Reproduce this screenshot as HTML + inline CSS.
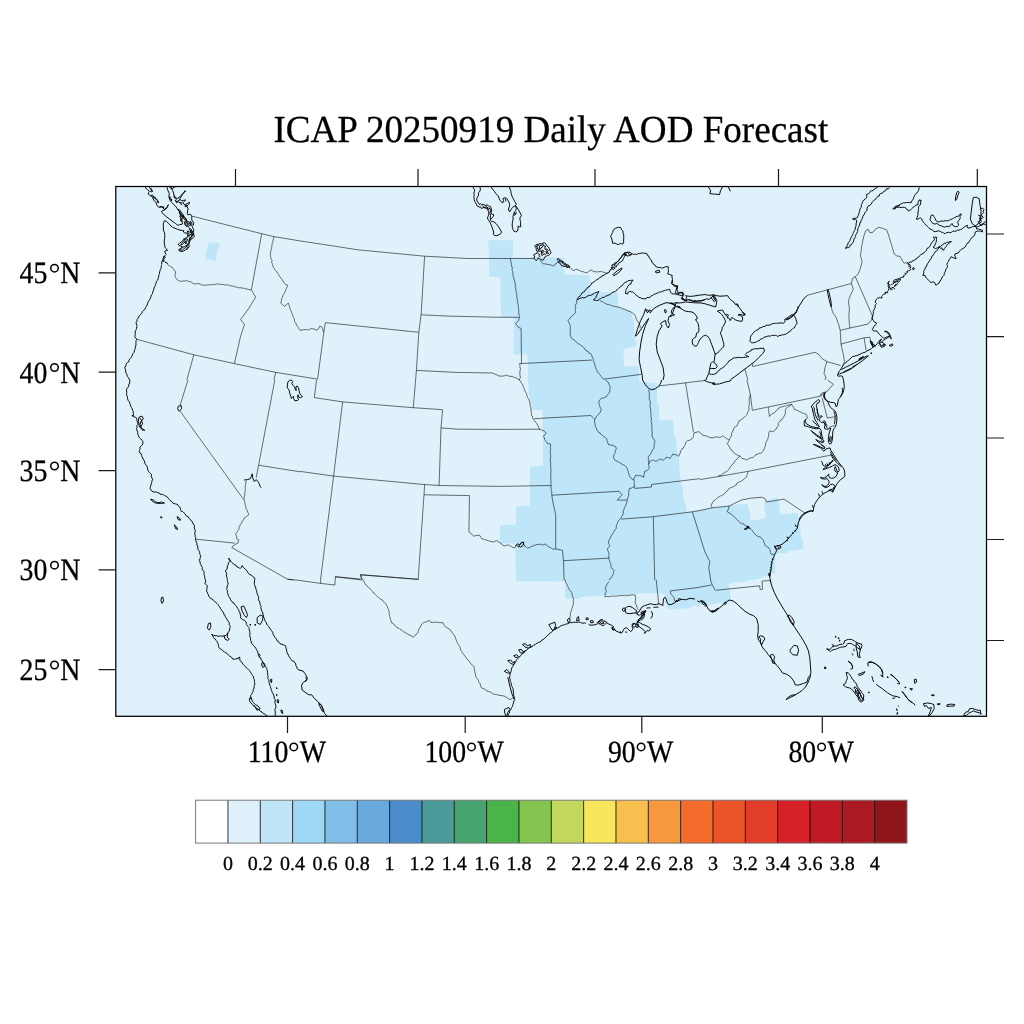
<!DOCTYPE html>
<html><head><meta charset="utf-8"><title>ICAP AOD Forecast</title>
<style>
html,body{margin:0;padding:0;background:#fff;}
body{width:1024px;height:1024px;overflow:hidden;}
svg{display:block;}
text{font-family:"Liberation Serif",serif;fill:#000;text-rendering:geometricPrecision;stroke:#000;stroke-width:0.3px;}
svg{will-change:transform;}
</style></head><body>
<svg width="1024" height="1024" viewBox="0 0 1024 1024">
<rect width="1024" height="1024" fill="#fff"/>
<defs><clipPath id="fc"><rect x="115.8" y="186.5" width="870.7" height="529.8"/></clipPath></defs>
<rect x="115.8" y="186.5" width="870.7" height="529.8" fill="#DFF1FB"/>
<g clip-path="url(#fc)">
<path d="M488.1 240.2L512.8 240.2L512.8 257.8L564.4 257.8L564.4 274.5L589.4 275.6L590.6 292.5L617.8 292.5L618.3 307.0L631.6 310.9L632.0 316.7L633.9 321.4L634.7 339.4L636.6 341.7L636.3 346.4L627.7 348.0L623.4 349.5L624.1 366.7L638.4 365.9L639.4 381.6L656.9 383.4L656.9 403.4L659.2 405.0L659.2 420.6L673.3 419.8L674.1 436.3L676.4 437.8L677.2 455.0L678.8 456.6L679.5 470.6L681.1 484.1L682.7 487.2L683.4 501.3L685.8 503.6L686.3 511.9L729.8 505.6L736.8 504.4L747.6 504.1L748.2 509.8L750.1 511.1L750.5 520.6L755.9 520.0L765.4 518.1L766.0 514.3L764.1 510.5L764.7 502.9L767.3 500.3L777.4 497.1L778.1 500.3L779.3 502.9L780.0 513.3L781.9 514.5L795.2 512.8L797.8 513.6L798.4 518.1L800.3 527.6L800.9 537.1L802.6 539.7L803.1 547.3L804.7 548.6L800.3 549.6L788.9 551.1L787.0 553.6L777.4 553.4L775.5 554.9L774.9 571.4L776.4 573.3L770.5 574.2L769.2 575.8L762.2 576.7L758.4 579.0L748.2 580.3L747.0 581.6L733.0 582.2L728.6 584.1L729.8 591.7L730.7 597.4L730.5 601.9L716.5 603.8L710.0 604.4L692.0 605.9L691.3 607.8L669.4 609.4L667.0 607.5L665.5 601.3L664.7 593.4L643.6 593.1L635.0 594.2L610.0 595.0L580.8 596.9L580.0 598.8L565.2 598.4L565.2 581.6L516.3 581.3L515.6 561.7L515.2 543.4L500.0 543.0L500.0 525.0L515.9 524.7L516.3 506.3L530.0 505.8L530.0 466.7L543.3 465.2L542.5 410.0L531.6 409.7L531.3 403.4L528.8 394.1L528.1 380.0L528.1 362.8L526.9 354.2L513.6 354.2L513.6 317.5L501.1 316.7L500.3 276.9L489.4 276.6L489.1 257.8ZM209.0 241.5L211.3 243.5L219.5 242.9L219.1 247.4L216.8 251.3L216.2 261.1L213.3 261.6L212.3 259.7L206.4 259.7L205.5 252.3L207.0 249.3L208.4 244.5Z" fill="#BEE5F8" stroke="none"/>
<path d="M167.4 264.4L168.9 265.4L170.2 266.1L170.8 266.7L172.0 267.1L172.9 268.1L173.7 269.6L174.9 270.6L175.5 272.2L175.5 273.3L175.0 274.8L175.0 276.5L176.3 278.6L177.4 280.0L178.6 280.6L179.4 280.9L181.4 281.4L182.9 281.0L184.1 281.0L185.8 280.8L187.6 280.8L188.5 281.6L190.0 281.3L190.8 281.9L192.6 283.0L193.2 283.6L195.1 284.0L196.2 283.9L197.7 283.5L200.0 284.0L201.3 284.8L202.8 285.2L204.7 285.2L205.7 285.1L207.0 285.1L208.4 284.8L209.7 285.0L211.2 284.5L212.7 284.7L213.9 284.7L215.2 284.3L216.6 283.9L217.8 283.9L218.8 284.3L220.4 284.2L222.2 284.5L223.4 284.6L225.0 285.0L226.2 285.0L227.7 284.9L229.6 285.4L230.9 285.9L232.6 286.0L233.9 286.4L235.3 286.9L236.7 287.1L238.0 287.6L239.5 287.8L241.0 287.6L242.1 288.4L243.6 288.0L244.4 288.5L245.7 288.6L247.0 289.1L248.9 289.6L249.8 289.7L251.4 289.8M191.8 216.1L261.7 233.7L273.8 236.6L300.0 240.9M261.7 233.7L251.4 289.8L255.7 297.2L248.4 308.9L240.6 319.6L244.5 324.5L240.6 336.2L234.4 363.6M136.3 339.2L193.8 354.8L234.4 363.6L275.8 372.4L300.0 376.3M193.8 354.8L186.9 380.0M275.8 372.4L273.8 380.0M273.8 236.6L273.8 238.3L273.1 239.7L272.9 240.7L273.1 242.3L272.2 243.3L272.2 244.6L271.7 246.0L271.8 247.1L271.4 248.8L270.8 250.0L270.9 251.5L270.3 253.2L270.5 254.6L270.3 255.3L270.5 257.0L271.0 257.8L271.4 259.7L272.0 260.5L271.7 262.3L272.3 263.5L272.3 264.3L273.0 265.9L273.3 267.4L274.4 268.4L274.7 269.5L275.5 270.6L276.5 271.3L277.3 272.9L277.8 273.3L278.7 274.5L279.1 275.6L279.8 276.7L280.8 277.9L281.8 279.0L282.4 280.0L283.0 281.0L283.6 282.0L284.7 283.6L285.8 284.5L287.8 285.2L287.2 286.7L286.4 288.3L285.8 289.4L285.5 291.0L284.7 292.2L284.4 293.4L283.6 294.5L282.8 295.6L282.3 297.4L281.9 298.4L281.3 300.4L281.4 301.7L280.5 302.9L281.8 304.0L283.0 305.0L284.4 306.3L286.2 305.0L287.0 304.4L288.3 302.9L288.5 304.3L289.3 305.7L289.6 307.0L289.8 308.1L290.3 309.5L290.7 310.5L291.4 312.0L292.0 313.5L292.6 314.9L293.0 316.4L293.3 317.2L294.2 318.4L294.5 320.1L294.5 321.5L295.6 322.7L296.2 323.9L296.4 324.8L297.3 326.2L298.2 327.3L298.7 328.5L299.5 329.4L300.0 330.4M300.0 240.9L358.6 249.9L424.6 256.2L468.0 258.5L500.0 258.5M424.6 256.2L421.1 314.8L418.8 332.3L416.4 370.4L415.6 380.0M325.4 322.6L418.8 332.3M300.0 330.4L301.0 330.0L302.3 330.0L304.0 329.5L305.3 329.7L306.5 329.4L308.0 330.2L309.1 329.6L310.5 328.9L311.9 328.6L312.9 328.9L314.8 329.2L316.3 330.1L317.6 329.9L318.2 329.0L319.1 327.7L319.6 326.2L321.6 326.7L322.5 328.1L322.9 329.2L323.0 330.8L323.8 332.3M325.4 322.6L323.8 332.3L317.6 379.2M300.0 376.3L317.6 379.2M421.1 314.8L448.4 316.1L500.0 317.3M416.4 370.4L456.2 372.4L492.4 373.0L500.0 376.3M500.0 258.5L534.2 258.5M510.2 258.5L510.6 260.3L510.9 261.3L511.1 262.9L511.6 264.5L511.5 266.0L512.2 267.0L512.3 268.2L512.0 269.6L512.6 271.5L512.7 272.3L513.0 273.6L512.9 275.5L513.5 276.7L513.9 278.3L514.1 279.6L514.7 281.0L514.8 282.3L515.3 283.4L515.2 285.0L515.3 286.6L515.6 287.3L515.7 289.4L516.1 290.2L516.0 291.5L516.7 293.4L516.9 294.8L516.6 296.0L517.0 297.4L517.5 298.8L517.1 300.1L517.9 301.4L517.4 302.2L517.6 303.3L518.3 305.2L518.3 306.5L518.5 307.4L518.3 308.6L518.9 310.0L518.7 311.5L518.7 312.6L519.0 314.3L519.3 315.3L519.5 316.7M500.0 317.3L519.5 317.3M519.5 317.3L518.6 320.6L515.6 323.6L518.6 327.5L521.1 328.4L521.5 363.6M519.5 363.6L591.8 360.1M519.5 363.6L520.1 365.3L519.8 366.8L520.5 368.7L520.1 370.3L519.9 371.5L519.8 373.0L520.1 374.4L519.8 375.7L520.7 377.6L519.6 378.6L519.5 380.0M500.0 376.3L501.2 376.0L502.8 376.1L504.2 375.9L505.7 375.1L507.5 375.6L508.5 375.9L509.9 376.3L511.9 376.5L513.1 376.8L514.2 377.4L515.9 377.8L517.2 378.4L518.0 379.2L519.5 380.0M540.0 260.1L540.9 261.5L541.8 262.4L543.0 263.8L544.6 263.9L545.8 263.9L547.1 264.4L549.0 264.6L550.2 264.8L552.3 265.5L553.4 265.9L555.0 264.8L555.4 263.8L556.8 263.3L557.6 262.0M570.3 267.5L571.1 268.5L572.3 269.5L573.1 270.6L575.1 270.0L575.9 269.2L577.0 269.4L578.9 270.3L579.9 270.6L580.6 271.3L581.7 271.6L583.6 271.8L585.2 272.7L587.1 272.8L588.3 271.8L589.2 270.9L590.7 270.0L592.6 270.8L593.8 272.0L595.0 271.5L596.5 272.0L597.9 271.8L599.2 271.7L600.4 271.4L601.4 271.5L602.5 271.8L604.2 272.5L605.3 272.7L606.4 273.3L608.0 272.5L609.4 271.8M577.1 299.5L576.6 301.0L576.7 302.2L576.1 304.0L575.4 305.0L575.4 306.5L575.9 307.6L575.2 309.0L575.4 310.4L575.3 311.6L575.4 312.8L574.2 314.1L573.0 314.9L572.2 315.9L571.0 317.1L570.2 317.7L569.2 319.2L568.0 320.6L568.8 322.0L569.2 322.9L569.6 324.5L570.6 325.5L570.1 327.2L570.2 328.2L570.0 330.1L570.5 331.5L570.3 332.9L570.1 334.6L570.5 335.7L571.2 337.1L571.3 338.0L572.5 338.9L574.0 340.0L575.2 341.0L576.1 341.9L577.3 342.7L578.1 343.8L579.5 344.3L580.7 345.2L582.0 346.1L583.1 346.9L584.3 348.2L584.6 349.2L586.2 350.1L586.6 351.2L588.2 351.5L589.0 353.2L590.7 353.6L591.5 354.5L592.0 356.3L592.5 357.2L593.3 359.0L593.1 360.4L593.9 361.8L594.4 363.3L595.0 364.8L595.0 366.2L595.7 367.7L596.1 369.0L596.7 369.8L597.0 370.9L597.7 372.0L598.6 373.1L599.6 374.3L600.6 375.6L601.2 376.5L602.5 377.8L603.5 379.2M603.5 379.2L641.6 374.3M599.6 300.7L600.7 301.2L602.4 301.5L603.4 302.4L604.1 302.9L605.9 303.7L606.8 304.3L608.2 304.5L609.7 304.6L610.8 305.4L611.9 305.9L613.2 306.0L614.6 306.5L615.7 306.6L617.1 307.0L618.7 307.1L620.0 307.5L621.1 307.8L622.3 308.8L623.7 309.1L624.6 309.3L625.8 309.9L627.3 310.6L628.1 311.0L629.9 311.4L630.5 311.7L631.8 312.6L633.8 313.9L634.9 315.0L635.6 316.3L635.8 317.8L636.4 319.2L636.9 320.4L637.8 321.9L638.9 322.9L639.4 324.2L640.1 326.1L640.2 327.0L640.2 328.4M807.4 295.2L851.4 283.5L852.3 278.6L855.3 276.7L858.2 273.8L860.2 268.9L862.1 262.0L860.5 255.2L861.7 246.4L863.7 236.6L865.6 230.8L868.0 229.2L869.9 232.7L872.9 232.3L875.8 228.8L878.7 227.3L882.6 228.4L886.5 229.8L888.5 234.7L891.4 244.5L894.3 254.2L897.3 256.2L900.0 256.2M831.2 307.0L832.8 312.8L835.7 316.7L838.7 324.5L840.2 330.4L841.0 344.1L843.6 355.8L844.5 361.6L842.6 366.5M851.4 283.5L853.3 289.4L850.4 295.2L848.4 301.1L849.4 308.9L848.8 316.7L849.4 324.5L850.0 328.0M840.2 330.4L850.0 328.0L868.0 324.1L871.9 319.6L872.9 316.7M855.3 276.7L871.9 314.8L872.9 316.7M841.0 344.1L864.1 337.8L869.9 337.2L870.9 342.1M864.1 337.8L866.0 349.9M752.7 366.5L815.2 352.3L819.1 354.8L822.1 358.7L827.0 361.6L840.6 365.5M827.0 361.6L825.0 367.5L824.0 373.4L826.0 377.3L825.0 380.0M744.9 369.1L747.9 380.0M752.7 366.5L752.3 363.6M900.0 256.2L902.0 260.1L903.9 263.0L907.9 263.0L908.8 263.0M187.9 380.0L180.1 405.4M180.1 411.2L243.6 499.5M274.8 380.0L258.6 465.2L256.2 477.7M258.6 465.2L300.0 471.8M246.1 480.6L246.0 481.7L245.7 483.2L245.6 484.3L245.3 486.1L245.1 487.1L245.4 488.5L245.0 489.9L245.2 491.1L244.9 493.0L244.5 494.1L244.8 495.6L244.3 496.5L244.2 498.1L244.3 499.4L244.3 501.1L244.9 502.4L244.9 504.0L245.6 505.2L245.9 507.1L246.0 508.4L246.5 509.2L247.4 510.8L247.7 512.2L248.6 513.7L248.5 514.8L247.7 515.5L246.9 516.2L245.6 517.3L244.5 517.7L243.8 519.1L243.3 520.2L242.3 520.9L241.9 522.4L241.2 523.8L240.1 524.8L239.5 526.7L239.0 527.6L238.9 529.5L237.6 530.8L237.4 531.8L236.1 533.2L235.7 534.4L236.4 535.8L236.7 536.6L236.6 538.2L237.5 539.6L238.9 540.0L238.2 541.4L238.0 543.1L236.5 543.8L234.9 544.4L234.3 545.5L233.1 545.8L231.8 547.6M195.7 539.2L234.8 543.1M231.8 547.6L287.5 579.2L293.4 580.0M316.6 380.0L314.3 397.6L342.6 401.9L413.3 407.7L442.6 409.7M415.6 380.0L413.3 407.7M342.6 401.9L333.6 476.1L320.5 580.0M300.0 471.4L333.6 476.1L424.0 484.5L439.1 485.5L500.0 486.4M442.6 409.7L441.0 427.9L439.1 485.5M441.0 427.9L458.2 429.2L500.0 429.4M424.6 484.5L424.0 494.8L418.2 579.2M424.0 494.8L469.5 495.6L468.9 532.0L471.9 534.3L473.8 536.2L476.8 535.3L479.7 535.3L481.6 538.6L485.5 539.8L489.5 541.1L493.4 542.1L496.3 540.5L499.2 542.1L500.0 543.1M418.2 579.2L360.5 574.9L362.1 579.2M335.2 576.9L362.5 580.0M519.5 380.0L520.3 381.1L521.0 382.4L521.8 383.6L522.7 384.7L523.3 386.2L523.2 387.3L524.2 388.6L524.7 389.8L525.1 391.4L525.7 392.6L526.6 393.7L526.8 395.3L527.3 396.6L527.5 397.5L528.4 398.5L529.1 399.9L529.4 401.2L529.9 402.8L530.0 404.1L530.2 405.5L530.2 406.5L530.9 407.7L531.2 409.1L530.8 410.5L531.5 412.6L531.4 413.8L531.5 415.5L532.4 416.1L532.6 417.7L533.2 419.1L534.0 419.8L535.0 421.1L535.7 422.2L536.7 423.6L537.4 424.7L538.1 426.4L538.5 426.7L539.2 428.3L539.8 429.3L541.0 429.8L542.8 430.5L544.1 430.9L545.2 431.9L546.2 433.5L545.4 434.3L544.0 435.4L543.5 436.6L544.3 437.6L544.6 439.5L545.4 440.6L546.3 441.7L547.7 443.8L549.4 443.8L550.7 444.1L550.5 446.1L550.3 447.4L550.6 448.1L550.4 449.7L550.3 451.3L550.3 452.6L550.4 453.4L550.6 454.7L550.7 456.6L550.7 457.7L550.3 459.0L550.4 460.4L550.4 461.7L550.6 462.9L550.9 464.0L550.5 466.0L550.7 467.2L551.1 468.3L550.6 469.3L551.2 470.6L550.9 472.3L550.7 473.5L550.7 474.9L551.0 476.1L550.8 477.5L550.8 478.6L550.9 480.5L551.1 481.8L550.8 483.2L551.1 484.4L551.2 485.6L551.0 487.1L551.1 488.1L551.1 489.6L551.5 490.9L551.9 492.1L551.7 493.6L551.8 495.2M534.2 418.7L590.8 415.5L594.7 419.1M500.0 429.4L540.0 429.2M500.0 486.4L551.2 485.5M551.8 495.2L619.1 491.3L622.1 494.8L617.2 500.1L627.0 500.1M551.8 495.2L552.7 501.1L555.7 514.8L555.7 548.9L562.5 550.3L563.5 560.7L564.1 580.0M563.5 560.7L609.0 558.1M500.0 543.1L501.5 543.7L502.4 545.1L504.3 545.7L505.3 545.8L506.7 545.2L508.0 545.0L509.4 545.3L510.8 546.3L511.6 546.7L513.0 547.7L514.8 547.7L515.5 546.2L516.4 544.8L517.4 546.4L518.9 547.2L519.2 545.7L520.1 544.7L520.7 543.2L521.7 542.7L523.7 542.3L523.5 543.6L524.0 544.5L524.8 546.1L526.1 546.7L527.6 548.3L529.0 547.6L530.2 547.2L531.3 546.4L532.8 546.2L534.1 545.3L535.5 545.1L536.8 544.4L538.1 544.6L538.9 544.3L540.2 544.2L541.6 544.5L543.0 545.3L545.1 543.8L546.1 545.0L547.7 546.0L549.2 547.2L550.1 547.3L551.5 548.5L552.6 549.0L554.5 549.2L555.7 548.9M605.5 380.0L606.1 380.7L607.7 381.9L608.5 382.9L608.9 384.0L609.6 385.8L610.4 386.7L609.8 388.1L610.0 389.7L609.7 391.5L609.1 392.8L608.0 394.2L607.2 395.1L606.8 396.5L604.8 397.4L603.6 397.9L602.0 398.1L600.9 398.6L600.0 399.8L598.9 401.2L599.0 402.4L599.0 404.4L599.6 405.6L599.9 406.6L600.3 408.0L601.4 409.3L600.6 410.9L600.4 412.0L599.3 413.3L598.6 414.5L597.6 415.3L596.8 416.0L595.7 417.7L595.0 419.1L594.6 420.9L594.4 422.2L595.1 423.7L595.1 425.4L595.6 427.0L596.3 428.0L596.7 429.5L598.0 431.5L598.4 432.1L599.7 432.6L600.5 434.1L601.7 434.6L602.7 435.5L603.9 436.6L605.5 437.7L606.7 438.7L606.8 440.4L607.6 441.7L607.7 442.7L608.5 444.7L609.9 444.7L610.7 445.1L612.6 445.2L613.8 445.8L614.8 446.4L616.1 447.3L616.2 449.4L615.3 450.5L615.6 452.0L614.6 453.4L614.0 454.5L613.7 455.8L613.6 457.0L614.0 458.9L615.2 460.3L616.6 461.0L617.5 461.3L619.1 462.3L620.2 463.1L621.5 463.6L622.5 464.8L623.8 465.0L625.1 465.8L626.2 466.9L627.2 468.6L627.8 470.2L628.1 471.1L628.3 472.8L629.1 474.4L629.2 475.9L630.3 477.0L631.9 479.0L633.9 479.8L634.1 480.9L634.4 482.5L634.0 483.6L634.5 485.0L634.1 486.7L632.9 487.1L631.5 488.1L629.6 488.3L629.1 489.6L629.0 491.3L628.6 492.4L628.6 493.8L628.7 495.5L628.6 496.7L627.7 497.8L627.6 498.9L627.3 500.4L626.8 502.0L626.4 503.7L625.7 505.2L625.5 506.4L624.5 507.3L624.1 509.2L623.5 510.3L623.2 511.9L623.2 514.1L622.6 515.0L621.9 516.1L621.4 517.6L619.2 519.7L618.5 520.8L617.6 522.2L617.2 523.8L616.5 525.4L616.2 526.6L616.3 528.3L615.1 529.8L614.0 531.3L613.1 532.6L612.9 533.7L611.6 535.2L611.0 536.3L610.5 537.1L610.0 538.9L609.2 539.8L608.4 541.2L608.5 543.0L609.4 544.6L609.7 545.9L608.8 547.2L607.4 548.7L607.9 550.7L608.6 552.2L608.9 553.6L608.9 555.1L608.8 556.9L609.0 558.1L609.1 559.6L609.4 560.7L610.1 562.4L610.7 563.8L611.0 565.2L611.2 566.4L611.0 567.3L611.9 568.8L613.4 569.6L614.1 570.3L613.5 572.2L613.7 573.5L612.5 575.1L611.9 576.8L611.4 577.6L610.0 578.5L609.4 580.0M648.8 389.8L648.9 391.5L649.4 392.7L649.2 394.0L649.0 394.8L649.5 396.4L649.3 397.6L649.3 399.4L649.9 400.8L650.2 401.7L650.2 403.0L650.3 404.7L649.9 405.4L650.1 407.1L650.4 408.0L650.8 410.0L650.6 410.7L651.1 412.4L650.6 413.6L651.1 415.4L651.1 416.5L651.0 417.5L651.7 419.0L651.1 420.5L651.2 421.5L651.6 423.2L651.8 424.6L651.7 425.5L652.0 426.8L651.9 428.5L652.1 430.0L651.8 431.3L652.3 432.6L651.9 434.2L652.3 435.0L652.1 437.0L652.9 437.9L654.1 439.5L654.8 440.7L654.3 441.6L654.9 443.5L654.1 444.3L654.2 446.3L654.1 447.5L653.9 448.7L653.2 449.6L651.8 450.7L651.6 452.0L651.0 453.6L649.7 454.9L648.9 455.9L648.1 457.4L648.7 458.8L648.1 460.0L648.5 461.3L648.9 462.6L649.4 464.0M633.8 479.6L634.1 478.0L635.1 476.8L635.7 475.3L637.2 475.3L638.6 475.9L639.6 475.4L641.1 476.0L642.2 476.4L643.9 477.3L643.7 475.6L644.2 474.8L644.6 472.9L644.4 471.6L646.0 470.8L647.1 470.7L648.4 469.2L649.1 468.6L649.2 467.3L648.8 465.6L648.4 464.1L649.0 462.8L649.6 461.3L651.0 461.0L652.2 460.0L653.5 460.3L654.7 460.9L656.0 461.4L657.5 460.6L658.7 459.6L660.0 459.0L661.3 459.5L663.5 460.2L664.4 459.3L665.3 458.5L666.2 457.0L667.1 457.4L668.3 457.6L670.2 458.4L670.5 457.3L671.6 456.3L672.3 454.9L672.6 454.1L674.0 454.4L675.4 454.8L677.1 454.9L678.7 456.3L679.2 455.3L679.6 454.0L680.3 452.9L680.4 451.1L681.5 450.3L682.2 448.5L683.8 447.8L683.9 446.2L684.9 445.2L685.5 444.1L685.7 442.5L686.2 441.7L687.6 440.7L689.5 440.3L690.5 439.7L692.0 438.7L693.2 437.3L693.4 435.6L693.9 434.1L694.0 432.7L696.2 432.4L697.1 432.0L698.4 431.7L700.0 432.3M659.2 385.9L685.5 382.9L700.0 381.0M685.5 382.9L693.4 431.8M634.4 486.4L634.8 488.4L651.4 487.0L651.4 484.5L700.0 478.6M621.1 519.1L653.3 516.7L692.4 511.8L700.0 510.5M653.3 516.7L654.7 580.0M692.4 511.8L700.0 536.2M746.9 380.0L750.4 394.6L752.3 410.3L821.1 396.0L822.7 393.7L825.0 392.7M822.1 397.6L827.3 418.1L835.2 416.7M750.4 394.6L750.0 396.2L749.5 397.6L749.2 399.4L749.2 400.6L749.3 402.3L749.4 404.2L749.3 405.2L748.7 406.6L749.1 408.1L748.8 409.9L748.6 411.0L747.5 412.2L747.5 413.6L746.6 415.0L745.7 415.8L744.2 417.4L743.0 418.4L741.9 419.2L740.3 420.3L738.9 420.9L738.6 421.9L737.9 423.7L737.4 424.6L737.3 425.7L735.4 426.7L734.1 427.7L733.6 429.1L733.2 430.1L732.4 432.0L731.7 433.0L731.5 434.7L731.2 436.8L730.3 437.5L729.9 438.7L729.1 440.1L727.5 439.0L726.3 438.6L725.4 437.7L723.4 436.4L722.6 435.7L721.3 437.0L719.8 437.3L718.6 437.4L716.7 437.0L715.9 436.8L714.0 437.2L713.3 437.8L711.9 437.9L710.4 437.5L708.9 437.3L707.7 436.4L706.9 436.3L705.0 435.6L704.0 435.7L702.2 434.7L701.5 433.7L700.0 432.7M729.3 440.2L728.4 441.9L727.1 443.7L728.3 445.0L728.9 446.0L729.6 447.1L730.1 448.8L731.6 449.7L732.0 450.9L733.5 452.0L734.6 453.4L736.2 454.6L737.4 454.9L738.4 455.6L739.8 455.8L741.0 457.3L742.0 458.5L743.4 458.6L744.9 459.2L746.3 460.0L747.0 459.8L748.4 458.7L749.7 458.3L750.7 457.7L752.2 457.7L753.3 457.2L754.5 456.1L755.7 455.4L756.4 454.0L757.7 454.2L759.0 453.3L760.6 453.3L762.3 451.9L763.3 451.0L763.9 450.0L764.1 449.0L764.6 447.7L765.3 446.0L765.8 444.9L765.6 444.0L766.1 442.1L766.7 440.9L767.7 439.9L767.8 438.1L768.6 436.9L768.7 435.2L768.6 433.5L769.2 432.3L769.6 431.1L771.0 430.9L771.6 431.7L773.3 431.5L774.4 430.6L775.0 429.7L776.2 429.0L776.8 428.0L777.7 426.4L778.3 425.1L778.2 423.4L779.2 422.2L780.2 420.8L781.4 420.3L781.8 419.0L783.4 417.9L783.6 417.1L784.6 415.3L785.1 414.1L785.4 412.8L785.3 410.7L785.7 409.1L786.6 408.0L787.8 407.3L788.5 406.4L790.7 405.4L791.8 404.4M768.4 407.3L768.3 408.1L768.5 409.3L768.8 410.7L768.7 412.6L769.2 413.8L769.3 414.9L769.5 416.5L770.4 415.4L771.8 414.0L773.5 413.3L774.8 412.5L775.9 411.0L776.8 410.3L778.3 409.1L778.8 407.9L779.8 407.5L781.0 406.8L782.5 406.9L784.4 406.0L785.3 406.2L787.6 405.2L788.7 405.0L790.2 404.6L791.8 404.2L792.2 405.3L793.0 406.5L794.1 408.2L794.5 409.5L796.2 409.8L797.3 410.4L799.0 411.3L799.6 411.6L801.4 412.5L802.7 413.0L804.1 413.8L804.8 413.9L806.2 414.3L807.0 415.7L806.9 416.5L807.5 418.1L806.2 418.8L805.5 420.0M740.0 455.8L739.2 456.6L737.9 457.8L737.1 459.1L735.8 460.2L734.9 460.9L734.3 462.4L733.3 463.8L732.0 464.6L731.4 465.8L730.0 467.0L729.5 468.6L728.5 469.9L727.6 470.7L725.9 472.0L724.4 472.9L723.1 473.4L722.3 474.1L721.4 475.2L719.9 475.3L718.5 476.1L717.6 476.7M700.0 479.6L717.6 476.7L747.9 471.4L830.5 455.2M747.9 471.4L747.8 472.7L747.6 473.7L746.8 475.3L746.9 476.5L745.8 477.4L744.3 478.6L743.4 479.8L741.9 480.5L741.0 481.6L739.5 481.6L738.1 482.6L736.9 483.2L736.5 484.8L734.9 485.4L734.3 486.3L732.6 487.1L731.9 487.4L730.2 487.8L729.0 488.8L728.0 489.5L727.5 490.6L726.1 491.7L725.1 493.3L724.4 493.8L722.7 494.9L721.7 495.4L720.2 496.0L719.6 496.6L717.7 497.7L716.9 498.5L715.6 499.5L714.7 500.0L713.6 501.3L712.9 501.8L711.8 503.9L711.0 505.2L711.6 506.3L712.1 507.9M700.0 510.5L712.1 507.9L729.3 506.0L741.0 500.1L750.8 498.2L762.1 497.2L765.4 499.1L766.4 502.1L784.0 499.1L804.5 512.8L808.4 511.8M729.3 506.0L727.3 511.8L732.2 514.8L737.1 519.6L742.0 524.5M700.0 536.2L704.9 551.9L709.8 561.6L708.8 567.5L710.7 580.0M287.5 579.1L300.0 580.5M320.7 579.9L320.5 583.4M300.0 580.5L320.5 583.4L334.8 585.0L335.5 576.6L360.5 579.1M360.5 574.6L418.6 579.5M360.5 574.6L360.9 576.0L360.9 577.8L361.8 578.6L362.9 579.6L363.8 580.6L363.9 581.8L364.8 583.0L365.3 584.4L366.5 585.2L367.2 586.4L368.4 587.3L369.5 588.1L370.3 589.1L371.5 590.4L372.5 591.3L373.1 592.6L374.2 593.1L375.0 594.1L376.3 595.4L377.1 596.3L377.9 597.1L379.3 597.9L380.6 599.3L382.2 599.8L382.8 601.2L384.1 602.1L385.1 603.1L385.8 603.6L386.4 605.0L387.5 606.7L387.8 608.4L388.5 609.2L388.7 610.5L389.3 612.3L389.2 613.4L389.3 614.9L389.8 616.6L390.1 617.9L390.3 618.8L390.7 620.4L391.1 621.0L391.6 622.8L393.0 623.3L394.0 624.8L394.7 625.2L395.9 626.3L396.6 627.5L398.0 627.9L399.3 628.6L400.0 629.4L401.5 629.9L402.6 631.2L403.8 631.9L405.2 632.2L405.9 633.3L407.5 633.7L408.4 634.8L410.1 635.0L411.0 635.9L412.0 636.1L413.1 637.3L414.7 636.0L415.6 634.7L417.0 633.8L417.7 632.8L418.1 631.5L418.7 630.0L419.3 628.4L420.1 626.8L421.0 626.2L421.3 624.9L422.1 623.8L423.2 622.7L424.8 622.2L427.0 621.6L428.6 620.5L429.9 621.0L430.7 622.3L432.3 622.6L433.5 622.3L435.0 622.0L436.4 622.2L438.1 622.5L439.7 622.5L441.3 622.8L442.9 622.6L443.6 624.1L444.4 625.5L445.3 626.7L446.6 627.3L448.0 628.4L449.0 629.0L450.7 630.2L451.1 631.7L452.4 632.6L453.2 634.2L454.2 635.1L455.1 636.3L455.2 637.4L455.9 639.0L456.2 640.0L456.6 641.5L457.4 642.7L457.9 643.8L458.2 644.6L459.5 646.1L459.9 647.3L460.3 648.4L460.7 650.1L461.7 651.2L462.2 652.5L463.2 653.7L464.1 655.1L465.1 656.2L466.0 657.7L466.7 658.7L468.1 660.1L469.0 661.5L470.0 662.3L470.9 663.8L471.9 664.7L472.7 665.4L474.2 666.7L474.1 667.5L474.3 668.8L474.7 670.9L474.8 671.7L475.1 673.0L475.5 674.5L475.4 676.0L476.2 677.2L476.9 678.2L477.8 679.2L478.5 680.5L478.6 681.7L479.4 682.7L480.3 684.0L480.4 685.3L481.0 687.0L481.9 688.2L483.2 688.5L484.2 688.9L485.5 689.9L486.5 690.1L487.2 691.2L488.7 691.5L490.1 691.8L491.2 692.6L492.4 693.2L493.1 694.1L494.5 694.4L496.3 694.4L497.5 694.9L498.5 695.1L500.0 695.7M500.0 695.2L504.9 696.3L507.8 698.3L509.8 699.6L512.7 698.3L514.6 697.7M564.5 579.5L565.3 580.5L565.6 582.1L566.0 582.8L566.8 584.2L567.7 585.7L567.8 586.7L568.6 587.5L569.2 589.4L569.8 590.3L570.9 591.2L571.8 592.6L572.1 594.3L572.4 595.7L573.0 597.4L573.5 598.8L573.5 600.2L573.2 601.8L573.4 603.2L573.5 604.9L572.6 605.9L572.5 607.0L572.0 608.3L571.6 609.7L571.0 611.7L570.3 612.7L570.5 614.8L570.4 615.8L570.0 617.1L569.9 618.6M609.0 581.5L608.1 582.8L606.9 584.5L606.2 585.9L606.0 586.8L605.2 588.3L606.0 590.0L606.3 591.2L605.8 592.5L604.9 594.5L605.2 595.8L604.9 597.0L606.5 596.4L608.2 596.7L609.4 596.5L610.2 596.6L611.6 596.1L613.3 596.0L614.5 596.3L615.6 596.1L616.9 595.9L618.7 596.0L619.6 595.5L621.6 595.6L622.6 595.5L624.1 595.7L625.4 595.3L626.7 595.3L627.8 595.6L629.7 595.3L631.1 595.0L632.3 594.7L633.6 595.0L635.1 595.0L635.4 596.0L635.6 597.6L635.6 599.0L635.5 600.8L635.0 602.1L635.2 603.0L636.1 604.4L636.6 605.6L637.0 607.4L637.6 608.8L638.3 609.8M656.2 579.5L658.2 599.1L658.6 604.5M700.0 587.3L670.3 590.9L670.9 594.2L673.8 597.1L674.8 601.4M710.4 579.9L712.1 584.4L714.6 589.3L715.6 590.3L759.6 585.8L760.2 589.7L762.5 589.3L762.1 581.1L770.3 580.5M700.0 587.0L711.7 585.0M827.5 380.0L833.4 384.3L830.6 387.4L828.3 390.2L825.5 392.3M820.1 396.0L820.9 394.1L822.8 392.5L825.5 392.1M829.1 427.3L834.9 425.3M742.0 522.9L743.6 523.8L744.4 525.1L746.3 525.8L747.1 527.0L748.5 527.7L749.8 528.2L751.5 529.8L752.4 530.7L752.9 531.6L753.9 533.0L755.0 534.0L755.9 534.9L756.6 535.6L757.8 536.4L759.7 536.9L761.0 537.6L762.3 539.0L763.0 540.0L764.0 541.8L764.2 542.9L764.9 544.0L764.8 545.2L766.4 546.5L767.5 547.1L769.1 548.1L769.6 549.3L770.4 550.5L770.2 552.3L771.4 554.5L772.7 554.2L774.0 554.5M700.0 381.3L704.6 380.4" fill="none" stroke="#000" stroke-width="0.56" stroke-linejoin="round"/>
<path d="M161.7 264.4L161.3 265.3L161.4 266.5L161.1 268.1L160.3 269.5L160.1 270.8L159.6 271.9L159.5 274.1L158.7 274.9L158.7 277.1L158.2 277.9L158.1 278.8L157.5 280.4L156.3 281.5L156.0 283.5L155.3 284.6L155.3 285.7L154.7 286.7L153.8 288.1L153.9 289.6L153.0 291.1L152.7 292.1L152.5 293.8L151.4 294.9L151.1 296.4L150.7 297.1L150.4 298.2L149.3 300.1L148.5 301.1L147.7 302.6L147.7 303.9L147.1 305.0L146.2 306.7L145.4 307.9L144.8 309.5L143.6 310.4L142.3 311.6L142.0 313.1L141.3 313.6L140.2 315.1L139.1 316.1L138.6 316.9L137.8 318.7L137.1 319.4L136.9 321.3L136.2 322.2L136.2 323.9L136.9 325.4L136.9 326.4L136.4 328.5L136.5 329.4L135.2 331.1L135.2 333.0L135.4 334.4L134.7 336.2L135.6 337.8L136.8 339.4L136.1 340.6L136.0 341.3L135.9 343.4L136.0 345.0L135.6 346.2L135.3 348.1L134.8 349.2L134.4 350.9L134.0 352.4L132.9 353.7L132.3 355.2L131.5 356.9L131.4 357.4L130.0 358.8L129.2 359.8L128.7 361.9L127.3 362.6L126.3 363.4L126.0 364.8L125.9 365.9L124.5 368.0L125.3 368.8L125.6 370.3L125.8 372.9L126.8 373.8L126.8 374.7L127.4 376.3L128.4 377.5L128.8 378.4L129.7 380.0M557.6 258.5L559.4 259.1L560.6 260.4L562.0 261.1L564.1 262.5L565.6 264.2L565.3 263.8L567.9 265.2L568.8 265.3L569.8 267.7L568.4 267.3L566.8 267.5L566.9 266.4L565.3 266.5L564.1 266.3L561.4 265.6L560.1 263.2L558.3 262.5L558.1 260.7L557.3 259.5L557.6 258.5M559.6 260.1L559.7 261.7L562.1 261.8L563.2 264.0L564.5 264.0L564.9 265.0L567.3 266.1L567.6 266.0L569.3 266.3M614.3 228.8L615.3 228.4L617.0 227.7L618.7 227.3L620.7 227.5L621.6 229.8L623.0 231.1L623.0 232.8L623.6 234.1L623.7 235.2L623.7 237.2L623.8 239.1L623.4 240.1L623.8 241.9L623.0 243.9L621.4 244.0L620.6 243.2L618.3 244.6L616.8 244.1L614.9 243.1L612.6 243.3L612.3 241.0L612.1 240.1L611.3 237.7L610.6 236.2L611.5 234.8L612.0 233.5L612.7 232.6L613.1 230.7L614.3 228.8M577.1 299.5L577.8 298.3L578.3 297.2L580.1 296.0L580.4 295.5L581.6 294.0L581.8 293.0L582.9 292.3L584.4 291.7L585.3 289.9L585.5 289.6L587.3 288.4L588.0 286.9L588.8 286.9L590.2 285.8L591.3 284.2L591.4 283.2L592.8 282.7L594.2 281.8L595.0 281.1L595.9 280.2L596.6 279.8L597.9 279.2L599.5 277.9L600.1 277.1L601.7 276.9L602.3 275.6L603.9 275.4L605.0 274.4L606.4 273.5L607.2 273.3L608.9 272.4L609.8 271.1L610.1 269.7L611.8 269.1L611.5 267.1L612.0 266.4L612.2 264.7L613.7 264.7L614.5 263.0L615.8 262.7L617.4 261.7L618.5 261.0L619.1 259.3L620.6 258.2L621.4 256.9L621.8 256.3L622.8 255.4L624.0 253.5L624.7 252.6L626.5 252.8L627.3 252.0L628.6 252.3L629.9 252.1L631.1 253.1L633.2 254.2L634.3 254.5L635.8 253.9L636.4 254.7L638.4 253.5L639.8 253.6L641.0 253.3L642.2 252.7L643.7 253.3L645.6 253.3L646.9 253.5L647.3 255.3L648.8 256.0L649.0 257.1L649.9 258.7L650.3 259.4L651.6 260.2L651.7 262.1L652.6 262.5L652.9 263.5L654.7 264.7L655.5 266.3L656.1 266.7L658.2 267.3L658.9 267.6L660.5 267.4L661.6 268.1L664.0 267.6L665.5 266.6L666.2 266.7L668.4 266.8L668.1 267.8L668.3 269.8L668.5 270.8L668.1 272.7L667.9 274.0L669.1 274.2L670.3 274.9L672.2 275.3L671.9 277.3L672.3 277.9L672.4 279.7L672.4 281.4L672.6 282.7L671.6 283.1L672.4 284.5L674.0 285.4L674.5 286.4L676.4 286.1L678.0 285.8L677.6 286.4L677.4 287.9L676.8 289.2L677.6 290.4L677.8 291.7L678.4 293.7L680.1 292.8L681.2 293.1L682.6 292.0L683.4 293.9L684.1 294.8L682.3 295.6L681.3 295.6L679.2 295.0L678.0 294.6L677.6 294.7L676.2 294.1L674.5 293.9L672.3 293.9L671.3 292.9L670.7 292.1L670.0 290.5L669.6 289.1L668.4 289.8L667.5 289.7L665.5 290.2L664.7 290.5L662.9 291.0L661.9 291.9L659.7 291.9L658.6 292.8L657.4 292.9L655.4 294.0L654.2 294.0L652.9 295.4L651.7 295.8L650.5 296.4L649.8 297.7L648.0 297.3L647.0 297.8L645.0 299.0L643.8 298.7L642.2 298.7L640.6 297.8L638.8 297.2L638.2 296.6L636.3 295.4L635.6 294.4L634.4 293.3L633.8 293.0L632.4 291.7L631.8 292.1L629.9 291.1L629.3 291.8L627.9 292.3L627.4 294.1L625.4 293.4L625.7 291.6L625.9 290.4L625.9 289.7L627.3 287.6L627.6 286.3L628.9 285.4L629.5 284.2L631.1 283.9L631.4 282.1L633.1 280.1L631.8 280.2L630.3 280.6L629.0 280.4L627.5 281.3L626.2 282.0L624.9 282.5L623.5 283.6L623.0 284.2L622.3 285.7L621.1 286.1L620.1 287.0L618.8 288.3L617.8 289.3L617.2 289.9L616.0 290.6L614.8 291.9L613.3 291.9L612.1 292.8L611.4 293.1L610.1 294.6L608.8 295.0L607.1 295.7L606.2 296.3L605.5 296.1L604.2 297.4L602.3 297.4L601.8 297.8L600.7 298.6L599.4 299.1L597.9 300.5L596.4 300.5L595.2 300.2L593.3 299.8L594.4 299.1L595.9 297.6L596.3 296.0L597.3 294.3L598.3 292.7L599.0 291.4L597.2 292.2L595.3 292.8L594.4 293.2L593.1 294.0L592.0 294.8L590.2 295.5L589.1 295.4L588.1 295.8L586.7 296.5L585.1 297.7L583.6 297.8L581.8 297.7L579.9 298.3L578.9 299.0L577.1 299.5M612.9 274.7L617.2 270.8L622.1 267.9L621.1 270.2L617.2 273.8L613.7 275.7L612.9 274.7M655.3 271.4L659.2 270.2L659.8 272.2L656.2 273.0L655.3 271.4M614.3 265.9L614.6 264.5L616.5 263.2L616.3 262.8L617.5 261.5L618.7 260.5L620.3 258.6L621.3 257.8L621.4 257.2L622.6 254.6L623.8 254.7L626.6 254.3L625.3 254.8L624.2 256.8L624.1 257.5L623.3 258.8L622.8 260.5L620.7 261.9L619.3 262.5L619.0 263.1L617.4 265.2L616.4 265.9L617.0 266.3L614.3 265.9M624.0 253.2L625.3 253.3L627.2 252.3L627.6 252.3L628.8 254.1L631.7 254.6L629.2 255.6L629.3 255.7L627.9 255.9L625.5 255.5L624.5 253.9L624.0 253.2M612.3 266.9L615.2 267.9L613.3 269.5L611.7 268.3L612.3 266.9M675.8 305.0L671.9 303.4L666.0 302.7L660.2 305.0L656.2 307.0L652.3 309.9L650.4 312.8L648.4 310.9L645.5 308.9L643.6 314.8L640.6 320.6L637.7 328.4L635.4 336.2L637.7 334.3L641.6 328.4L645.5 322.6L648.4 318.7L648.8 318.3L645.5 325.5L642.6 334.3L641.0 342.1L639.6 351.9L639.1 359.7L640.6 367.5L642.2 375.3L642.6 380.0M645.5 309.9L647.5 312.8L649.4 309.9L651.4 311.2M675.8 305.0L673.8 309.9L671.9 314.8L668.9 316.7L668.0 320.6L669.5 324.5L668.4 328.0L666.4 325.5L665.6 320.6L663.1 321.6L660.5 323.6L662.1 326.1L659.2 330.4L657.2 336.2L656.2 344.1L657.2 351.9L660.2 359.7L663.1 367.5L664.1 375.3L663.1 380.0M665.0 309.3L666.4 310.9L665.6 313.2L664.5 311.2L665.0 309.3M708.2 186.8L710.7 190.7L709.8 193.7L714.6 194.1L719.5 194.6L720.5 190.7L722.5 186.8M728.3 186.8L730.3 191.3M877.7 187.4L876.6 187.8L875.2 188.7L874.0 189.3L873.2 190.5L871.4 190.8L870.2 191.3L869.7 192.8L868.6 193.6L866.5 194.5L866.8 196.4L866.8 197.2L865.9 198.2L865.2 199.2L863.7 200.0L862.6 201.7L862.2 203.2L861.7 204.3L861.3 204.7L861.4 206.1L860.9 207.5L859.7 209.6L859.9 211.1L859.4 211.8L858.8 213.9L858.2 215.6L857.5 217.1L857.4 217.6L855.2 218.4L854.5 218.1L852.5 218.9L853.8 219.6L855.5 219.3L856.7 220.3L856.6 222.0L856.1 223.7L856.1 225.1L855.9 226.3L855.2 228.1L855.2 229.6L854.4 230.6L853.3 232.4L853.3 233.5L852.4 234.4L852.4 235.8L851.5 236.4L850.8 238.2L850.3 239.3L850.0 240.7L849.7 241.3L848.2 242.5L847.9 244.1L847.5 245.6L846.0 246.7L845.8 248.7L847.0 247.6L848.8 247.7L849.6 246.8L850.2 245.0L851.4 244.8L852.0 243.7L853.4 241.8L853.6 240.9L854.1 239.1L854.4 238.3L855.6 236.6L855.3 235.6L856.5 233.8L856.8 233.1L857.6 231.5L857.7 230.2L857.9 228.5L858.4 227.7L859.0 226.3L859.6 224.9L859.8 223.2L861.1 222.2L860.7 221.1L862.0 219.3L862.4 218.1L862.9 216.4L863.0 216.0L864.4 214.2L864.8 212.8L865.6 211.8L866.5 211.0L867.0 210.1L867.1 208.0L867.7 207.0L868.5 205.7L870.0 205.4L870.9 204.3L872.3 202.2L872.9 201.4L873.4 201.0L874.6 199.6L875.9 199.0L876.9 197.5L877.7 196.3L879.2 196.1L879.6 194.2L880.8 193.5L882.6 193.1L883.7 191.3L884.9 191.0L885.9 190.4L886.6 188.7L888.5 188.7L889.5 187.4M892.4 209.3L895.3 206.4L900.0 205.4M827.9 289.4L829.3 293.3L830.1 297.2L831.1 302.1L831.4 307.0L830.5 305.0L829.1 299.5L828.1 294.8L827.3 290.4L827.9 289.4M749.8 341.1L750.4 339.8L750.3 337.7L750.9 335.9L752.0 334.7L752.7 333.5L754.0 332.1L754.9 331.1L755.4 331.0L756.8 330.2L758.6 329.4L759.0 328.2L760.1 327.9L762.3 327.2L763.2 326.5L765.0 326.3L766.1 325.5L767.1 325.1L769.0 325.2L769.8 325.1L771.3 324.2L772.5 323.7L774.6 323.4L775.2 323.2L776.6 323.3L777.7 323.1L779.1 323.2L781.2 322.8L782.5 323.1L783.7 323.3L784.2 322.7L785.1 321.4L784.6 319.4L786.7 318.2L787.8 317.5L789.3 316.2L790.5 315.9L791.1 314.9L793.1 314.8L793.9 313.7L796.1 312.5L796.4 311.1L796.7 310.5L797.9 308.6L798.2 306.5L798.1 308.4L797.1 309.5L796.8 311.5L796.3 312.5L794.9 313.1L794.7 314.5L794.0 315.3L795.0 317.0L796.0 319.0L796.0 319.8L796.8 321.9L797.1 323.3L795.7 325.2L795.2 325.8L794.6 327.6L792.9 328.5L792.1 329.4L790.4 330.6L789.8 331.7L788.0 332.6L786.8 333.6L785.3 334.2L784.9 334.3L783.3 334.8L782.1 334.8L781.2 335.3L779.1 335.5L777.9 336.6L776.4 335.5L775.7 335.3L773.7 335.4L772.8 335.5L771.5 335.4L770.2 336.2L767.9 335.9L766.9 336.7L765.2 336.8L763.9 337.4L762.6 338.6L760.9 339.0L760.3 339.3L759.2 340.8L757.5 341.1L756.7 341.6L755.1 342.6L754.2 342.4L752.5 342.9L751.2 342.6L749.8 341.1M785.9 319.6L789.8 317.7L793.8 314.8L791.8 317.1L787.9 319.6L785.9 319.6M798.6 307.0L803.5 299.1L807.4 295.2M763.5 348.0L764.5 350.9L762.5 353.8L758.6 357.7L754.7 361.6L750.8 364.6L746.9 367.5L743.0 370.4L739.1 373.4L735.2 376.3L731.2 379.2L730.3 380.0M763.5 348.0L762.2 348.4L759.8 348.2L759.1 348.8L756.9 348.6L755.8 348.8L754.2 348.8L752.7 349.5L751.0 349.8L750.8 351.0L749.5 351.4L748.2 352.3L747.3 352.4L746.0 353.6L745.1 354.6L746.3 355.9L747.6 355.9L748.8 356.7L747.7 356.7L745.4 357.3L743.6 357.4L742.8 357.5L740.5 357.6L739.1 357.4L737.2 357.5L735.9 357.8L734.5 357.8L732.8 358.2L732.2 359.1L730.7 360.0L729.0 360.9L728.3 362.0L727.5 363.2L726.2 364.3L725.1 365.6L724.3 366.6L722.9 367.4L722.5 367.9L720.9 368.8L719.3 369.9L718.4 371.2L717.2 371.9L716.5 373.3L714.2 374.2L713.3 374.6L711.7 374.1L711.2 374.6L708.8 373.4M708.8 373.4L709.8 368.5L710.7 363.6L712.7 361.6L715.6 363.6L717.2 366.5L715.6 368.5L711.7 368.5L709.8 368.5M708.8 373.4L707.4 376.3L705.9 380.0M714.1 361.6L715.2 353.8M919.6 187.4L918.8 189.0L918.4 190.6L917.9 191.7L916.9 192.9L915.9 193.6L915.0 194.9L914.6 195.5L914.1 196.6L913.5 198.4L912.7 200.0L911.8 200.9L911.1 202.8L909.4 202.4L907.8 202.6L906.6 202.5L904.8 202.9L903.3 202.8L902.3 203.4L900.7 204.1L899.1 205.1L897.7 206.4L896.9 206.7L896.1 207.7L894.8 208.9L893.7 209.0L894.6 208.7L895.6 206.9L897.8 207.2L899.8 207.4L901.1 207.5L902.7 207.2L904.5 207.4L905.8 207.8L906.7 209.4L908.0 210.1L908.4 211.1L909.7 210.3L910.9 209.7L912.2 208.3L912.7 207.5L914.5 206.5L915.2 206.2L916.1 205.0L918.1 204.7L918.0 202.4L918.7 201.3L918.9 200.0L921.3 200.4L920.5 201.9L920.7 203.8L920.2 205.1L918.7 206.5L918.4 208.2L918.6 208.6L918.3 210.8L918.1 212.0L917.7 213.0L918.2 214.8L917.6 215.8L917.0 217.7L916.4 219.2L918.0 219.2L919.3 218.3L920.2 217.7L921.8 219.0L922.1 220.4L923.5 222.3L924.6 223.6L925.0 224.1L926.7 225.7L927.9 226.7L928.7 227.6L929.9 229.2L931.7 229.5L932.9 230.3L933.8 231.6L935.8 231.6L937.1 231.3L938.4 230.7L940.5 231.5L941.2 232.2L943.0 232.3L944.1 233.6L945.4 233.4L946.7 232.6L948.6 232.3L949.7 232.7L951.3 232.3L952.5 231.4L954.1 231.2L956.2 231.0L957.4 230.3L959.0 230.1L960.5 229.4L961.4 229.4L962.9 228.1L963.9 227.4L965.2 226.4L967.2 225.2L967.4 227.1L968.0 228.2L970.0 227.5L970.9 227.7L972.6 226.5L973.6 226.6L975.1 226.4L976.4 226.8L978.2 226.6L979.4 225.9L981.0 225.3L982.5 225.0L982.9 223.7L984.1 222.7L985.4 221.6L986.6 221.0M931.3 215.2L933.0 215.0L933.8 216.4L934.6 217.4L935.1 218.6L935.8 220.4L937.0 221.2L937.7 222.1L939.5 221.7L940.9 221.1L942.3 221.0L943.6 221.2L945.2 220.7L947.3 220.8L948.8 220.6L949.5 219.8L950.5 219.6L952.4 218.7L953.3 218.4L954.7 217.4L956.0 217.0L957.0 216.2L957.7 216.4L959.5 215.6L959.9 214.3L961.2 213.9L960.9 215.3L960.1 216.4L960.2 217.5L959.9 219.1L958.8 220.3L957.6 222.2L957.8 222.8L958.6 224.9L958.4 225.4L957.5 226.5L955.3 226.6L954.0 226.2L952.8 225.3L952.0 223.5L950.5 225.1L949.1 226.8L947.0 226.2L946.1 226.7L944.4 227.1L942.9 226.7L941.5 225.8L939.6 225.5L938.7 224.9L937.9 224.0L936.4 223.5L935.1 224.1L933.3 223.6L932.7 223.5L931.3 221.4L929.9 219.9L930.5 218.1L930.8 216.4L931.3 215.2M973.3 197.6L976.2 197.2L979.1 198.6L980.1 205.4L981.1 211.2L980.7 219.1L978.2 223.9L975.2 225.9L972.3 223.9L970.4 219.1L971.3 211.2L972.3 203.4L973.3 197.6M980.1 209.3L980.9 208.4L982.7 208.2L983.9 209.4L983.2 211.6L983.4 212.3L982.5 213.7L981.6 214.6L981.7 215.9L983.2 217.0L982.0 218.6L979.5 218.7L980.9 220.0L981.3 221.6L980.1 223.3L979.1 223.3L980.0 224.6L981.3 224.7L982.5 223.8L985.8 224.4L986.6 225.9M978.2 215.2L980.2 215.8L980.0 216.1L980.2 216.9L980.0 217.9L980.2 220.3L978.8 221.8L977.6 222.0M957.7 191.3L959.2 192.1L957.7 195.6L956.7 199.5L955.3 200.5L955.7 196.6L956.7 192.7L957.7 191.3M975.2 225.9L976.0 227.0L976.7 229.1L978.9 228.9L979.6 229.5L981.6 230.0L982.3 230.1L982.4 232.0L980.4 231.1L979.5 231.0L977.5 231.2L976.1 231.5L975.3 231.9L975.0 233.6L974.6 234.9L973.7 236.4L972.3 237.3L971.0 238.4L970.4 239.5L969.6 240.9L968.3 243.0L967.0 243.3L966.4 244.8L965.7 245.9L964.5 247.7L963.2 248.3L961.3 249.5L960.6 250.2L959.4 251.2L958.8 252.6L958.1 252.9L956.0 253.7L954.8 254.1L954.7 255.1L955.2 256.8L956.2 258.5L954.4 258.3L952.9 257.6L951.1 256.7L950.0 258.7L948.7 260.1L948.7 261.4L947.7 262.5L946.8 264.4L947.4 265.6L947.4 267.2L946.2 268.7L945.8 269.9L945.4 271.1L945.0 272.2L944.1 273.2L944.4 274.8L942.9 276.3L942.3 276.8L941.8 278.1L941.0 279.7L940.1 281.0L939.4 282.2L939.2 283.1L937.5 283.9L936.1 285.4L935.2 284.1L934.5 282.3L933.7 281.8L931.4 282.4L930.2 282.2L929.8 281.6L928.6 280.2L927.7 279.2L926.5 278.2L925.6 277.1L925.1 275.5L924.2 275.4L922.9 275.4L923.4 274.0L923.9 272.9L923.6 271.5L924.3 270.1L925.2 269.0L925.2 267.4L926.4 266.8L927.0 264.7L927.5 263.6L928.2 263.1L928.6 262.1L929.9 260.2L930.2 259.2L931.6 258.2L931.7 256.5L932.5 256.1L933.3 254.7L934.2 253.6L935.1 251.9L936.5 251.1L937.3 250.1L938.6 248.1L938.9 247.0L940.4 248.2L941.9 247.9L942.3 249.7L943.8 250.2L944.3 248.5L945.3 247.3L946.3 246.5L946.5 245.3L947.6 244.8L949.2 243.0L949.9 242.4L951.4 241.6L949.9 241.7L948.2 242.3L947.1 242.1L945.9 243.4L944.3 243.2L943.8 244.1L942.2 245.0L941.0 245.8L940.1 246.9L939.3 246.4L937.7 247.7L936.8 248.1L935.3 248.5L933.1 247.2L934.2 246.5L935.0 245.1L935.0 244.0L936.0 242.5L936.3 241.0L936.5 239.7L936.4 238.2L937.0 237.5L935.8 237.1L934.3 237.2L933.1 237.3L934.7 238.6L934.2 239.8L933.3 241.3L931.9 242.3L931.1 243.8L930.5 245.2L929.8 246.2L928.8 247.7L927.0 248.4L926.5 250.4L925.3 251.4L924.4 252.6L922.8 253.2L922.5 254.0L920.7 254.7L919.4 255.9L918.8 256.9L917.3 257.6L916.4 259.1L915.2 259.2L914.1 260.7L912.8 260.6L911.7 262.1L910.0 262.0L908.8 263.0M129.7 380.0L129.8 381.8L129.6 383.0L128.7 385.1L128.6 386.0L128.1 387.2L127.0 388.5L126.5 389.9L126.6 391.2L126.8 392.5L126.5 393.7L126.8 395.7L127.3 396.4L127.5 398.3L127.7 398.9L128.0 400.2L129.2 401.6L129.9 403.4L130.3 405.0L130.9 406.5L131.4 407.4L132.1 408.6L132.5 410.3L133.1 411.1L133.3 413.0L133.3 413.6L133.6 415.6L131.9 415.6L133.7 416.8L135.4 417.0L136.4 418.1L136.9 419.1L136.9 420.4L137.6 422.0L137.8 423.0L137.9 424.5L136.8 425.6L137.2 427.9L136.5 428.7L137.0 430.5L137.7 432.4L137.8 433.9L138.4 435.6L138.9 437.0L139.6 437.9L140.6 438.7L142.1 440.4L142.9 441.6L142.8 443.2L142.9 444.3L141.7 445.2L140.8 446.3L139.8 447.1L140.1 448.8L139.4 450.5L139.2 451.4L139.8 453.0L141.1 453.7L141.7 455.5L141.8 456.2L142.7 458.0L143.0 459.0L144.0 460.0L144.7 461.9L144.9 463.4L145.7 464.8L146.8 465.6L147.4 467.7L147.5 467.9L147.9 470.1L148.3 471.2L149.3 472.4L150.0 473.1L151.4 474.3L151.4 476.8L152.2 478.4L152.8 479.1L151.7 481.5L151.8 482.4L151.2 484.2L150.8 485.4L150.2 487.6L150.2 488.8L151.0 489.9L152.0 491.3L153.5 491.8L154.9 492.2L156.6 491.9L157.7 492.8L159.5 493.1L160.0 494.2L161.9 494.5L162.5 494.4L163.7 494.8L164.7 495.7L166.3 496.3L167.2 496.8L168.5 498.6L169.4 499.6L170.5 500.9L171.7 501.5L172.2 502.0L173.2 503.5L174.4 503.6L175.8 504.0L177.6 504.5L178.7 506.4L179.8 507.1L180.3 508.1L180.4 509.4L181.4 511.5L182.8 511.6L183.9 512.8L185.1 513.8L185.8 515.2L186.4 516.0L188.2 516.7L189.0 518.2L189.6 519.1L191.1 520.2L192.0 521.5L192.6 523.0L193.5 524.0L194.3 525.6L194.3 527.2L194.7 529.2L195.3 530.6L195.1 532.0L194.6 533.3L195.2 535.3L195.1 536.6L195.7 537.6L195.4 539.5L196.0 540.9L196.7 542.8L197.0 543.6L197.0 545.9L198.0 546.6L197.8 548.2L198.2 549.8L199.4 551.4L199.6 552.4L200.0 554.8L200.8 555.7L200.2 557.5L200.2 558.3L199.6 560.1M138.1 422.0L139.1 417.1L142.0 416.1L143.4 419.1L141.0 421.0L140.0 424.9L142.0 428.8L144.9 430.4L142.0 429.8L139.1 425.9L138.7 422.0M140.0 418.1L141.4 420.0L142.6 423.9L140.6 426.9M150.4 499.1L153.7 500.1L155.7 502.1L158.6 502.7L161.5 502.1L164.5 503.0L161.5 503.4L157.6 503.4L154.7 502.7L151.8 500.7L150.4 499.1M160.5 516.7L162.1 517.3L161.3 518.3L160.5 516.7M177.1 516.7L179.7 518.3L180.5 520.2L178.1 519.6L177.1 516.7M174.2 524.9L176.2 526.5L177.7 529.4L175.8 528.8L174.2 524.9M178.1 406.4L181.1 405.4L181.6 408.9L179.1 411.2L177.7 408.9L178.1 406.4M244.1 480.0L247.5 479.6L250.4 478.6L252.3 473.8L252.7 477.7L254.3 481.6L256.2 479.6L258.6 482.5L260.2 486.4L261.1 487.8M642.6 380.0L645.5 384.9L648.4 388.2L651.4 389.8L655.3 388.8L659.2 385.9L661.1 382.0L661.7 380.0M515.6 546.0L517.6 543.7L519.5 545.0L521.9 542.1L523.8 542.5L523.0 545.6L520.5 547.0L518.6 546.0M703.9 380.0L707.8 382.0L711.7 382.9L714.6 384.3L719.5 383.9L725.4 382.0L730.3 381.0L731.2 380.0M712.9 382.7L714.8 383.1L714.1 384.7L712.5 383.9L712.9 382.7M198.6 560.0L199.7 560.8L200.2 562.2L200.1 563.8L200.8 564.4L201.5 566.2L202.4 567.4L202.0 569.1L203.1 570.7L204.0 571.5L204.2 573.3L203.9 574.2L204.4 575.5L204.7 576.5L204.9 578.6L205.4 579.7L205.7 581.5L204.8 583.5L206.4 584.7L207.3 585.6L207.2 586.6L206.9 588.2L206.9 589.4L206.5 591.1L207.3 592.3L207.8 594.0L208.3 594.6L208.8 596.4L209.9 597.3L210.6 598.5L212.4 599.0L213.1 600.3L214.5 601.4L214.9 601.8L216.0 602.6L217.0 603.5L218.3 604.8L218.4 605.8L219.9 607.1L220.4 608.4L221.6 610.1L221.9 610.9L223.1 611.9L223.8 613.3L223.8 614.6L224.7 614.9L225.4 616.8L226.0 617.6L226.6 619.2L227.6 619.8L228.0 621.1L229.4 622.7L229.1 624.2L229.5 625.2L230.4 626.6L229.9 627.6L229.5 630.0L229.2 631.1L227.7 633.0L227.3 633.9L225.9 635.5L224.0 635.7L222.6 636.3L220.5 635.8L219.0 636.4L217.2 635.9L215.9 635.7L213.9 635.7L213.3 635.0L211.6 634.3L212.7 635.9L213.5 637.5L214.1 638.5L214.9 638.6L216.2 640.5L217.3 641.8L217.5 643.1L218.2 643.6L218.6 645.6L218.7 646.7L218.9 647.7L220.4 648.9L221.7 649.4L222.6 650.7L224.6 652.0L225.4 652.5L227.0 653.4L228.4 655.1L229.3 655.8L231.1 656.9L232.0 657.9L232.6 659.0L234.2 659.2L235.5 659.2L236.0 658.5L238.0 658.8L238.3 657.6L239.8 657.2L239.7 658.2L239.8 659.0L239.9 660.5L241.5 661.7L242.1 662.9L243.1 664.2L244.3 665.5L245.2 666.4L246.4 667.9L247.4 668.8L248.4 669.3L249.5 670.5L250.1 671.6L251.6 673.7L251.9 674.4L252.6 675.6L253.5 676.8L253.6 678.5L254.2 679.1L254.6 681.3L254.3 682.7L255.1 683.9L254.3 685.3L254.1 687.1L253.9 688.9L253.0 689.7L253.2 691.4L252.4 692.5L251.7 694.0L251.4 694.7L250.6 695.6L250.8 697.5L249.4 698.3L249.4 699.6L249.8 701.5L250.2 702.6L251.8 703.7L252.3 704.4L253.2 705.6L254.9 706.2L255.8 707.3L257.1 708.9L258.6 709.2L259.7 710.7L260.8 711.6L262.0 712.0L263.3 713.6L264.7 714.0L265.9 715.0L267.6 716.2M224.0 635.8L225.0 639.1L227.9 640.5L229.3 639.1L227.0 637.1L227.9 633.2L227.0 634.2M249.4 699.6L251.4 697.7L252.3 701.6L255.3 704.5L258.2 706.1L260.2 708.8L257.2 710.4L255.3 707.5L253.3 705.5M208.4 623.5L210.4 622.9L210.9 626.4L209.4 629.9L207.4 628.4L208.4 623.5M161.5 597.5L162.9 597.1L163.5 601.0L162.1 603.4L160.9 601.0L161.5 597.5M228.5 558.0L230.3 560.4L229.4 561.6L228.5 562.9L228.4 563.4L228.2 565.2L227.3 565.9L227.3 568.1L226.6 569.8L225.5 570.3L225.8 571.7L226.7 573.8L226.3 574.8L226.6 576.7L227.3 578.4L227.2 579.8L227.5 580.6L227.5 581.8L228.4 583.9L227.9 584.6L227.1 586.0L227.0 588.1L226.5 589.3L227.4 590.3L227.4 592.5L227.8 593.6L228.3 595.3L228.5 596.3L229.8 598.0L230.5 598.9L230.5 599.7L231.7 601.2L232.3 602.3L234.1 603.0L234.3 604.2L235.7 605.4L236.8 606.8L237.6 608.3L238.6 609.5L238.8 610.1L239.0 611.3L240.1 613.0L240.3 614.7L240.8 616.2L240.4 617.9L241.7 618.7L242.9 619.9L244.5 620.3L245.7 621.4L246.4 623.2L246.4 624.5L247.5 625.8L248.0 626.6L248.9 627.5L249.2 628.7L249.2 629.9L249.9 631.6L249.9 632.8L250.0 634.6L249.5 635.8L250.2 636.9L250.5 638.4L250.6 640.5L251.5 642.0L251.3 643.1L252.7 644.2L253.3 645.3L254.2 646.4L254.9 646.9L255.8 648.2L256.4 649.4L257.3 651.1L257.7 651.9L258.1 653.4L258.3 655.0L258.8 655.9L259.5 657.5L260.9 657.9L261.1 659.6L262.3 661.1L262.9 662.6L263.7 663.2L265.0 664.4L264.9 666.0L265.7 666.8L266.8 668.4L266.9 669.5L267.3 670.9L267.5 672.6L267.8 674.1L267.7 675.3L268.2 676.5L267.7 678.4L268.7 679.5L268.9 680.4L268.9 682.4L269.9 684.0L269.6 685.2L270.5 686.4L270.6 687.6L271.4 689.4L271.6 690.7L272.4 692.6L272.9 693.5L273.7 695.1L274.3 697.2L274.0 698.3L275.3 699.5L275.1 700.9L274.8 702.3L275.2 703.8L275.9 705.6L275.9 707.3L275.0 709.2L274.9 710.4L275.4 712.0L275.2 713.4L275.3 715.3L275.8 716.2M241.0 606.9L243.6 605.9L245.5 609.8L247.5 614.7L246.5 617.6L244.5 615.7L242.2 611.2L241.0 606.9M257.2 617.6L260.2 615.1L263.1 616.2L262.5 620.5L260.2 624.5L257.2 622.9L257.2 617.6M250.0 624.1L251.0 624.8L250.0 625.4L250.0 624.1M254.9 624.1L255.9 624.8L254.9 625.4L254.9 624.1M262.1 662.5L263.7 663.1L264.5 666.4L262.9 667.4L261.7 665.1L262.1 662.5M270.9 679.1L271.9 679.5L271.5 682.7L270.5 681.5L270.9 679.1M276.4 687.5L277.3 688.1L276.6 688.9L276.4 687.5M276.4 694.4L277.3 695.0L276.6 695.7L276.4 694.4M277.3 699.6L278.7 700.2L278.5 703.0L277.1 702.2L277.3 699.6M280.9 710.0L282.2 710.4L282.8 713.5L281.4 712.7L280.9 710.0M259.2 653.8L260.2 655.7L259.4 656.7M228.5 558.0L228.8 559.0L229.9 560.7L231.1 561.6L232.7 563.1L233.7 564.3L235.3 565.1L236.2 565.4L236.8 566.8L238.9 567.6L239.7 568.3L240.5 568.2L241.7 567.2L242.1 565.6L243.2 567.2L244.1 568.2L245.3 569.2L246.2 569.9L247.3 571.3L247.7 572.3L249.1 574.0L249.7 574.6L251.1 574.9L252.7 576.6L254.8 578.1L254.8 579.2L254.5 580.2L254.5 582.0L254.2 583.8L254.5 584.5L254.9 586.0L255.9 588.1L255.9 589.3L256.7 590.8L256.9 592.3L256.9 593.2L257.7 594.9L258.4 596.4L258.8 597.8L258.4 599.5L259.1 600.9L259.8 602.1L260.1 604.1L260.3 605.1L261.2 606.6L260.8 607.4L261.2 609.1L261.7 610.9L262.5 612.1L263.1 614.1L263.2 615.0L263.5 616.8L264.5 618.8L264.6 619.6L264.9 620.8L266.4 622.6L266.6 624.1L267.5 625.4L268.5 626.3L269.7 628.1L270.2 628.8L271.1 630.2L271.8 631.1L272.8 632.3L272.8 633.9L273.5 634.8L274.7 636.9L275.1 637.4L276.2 638.6L276.7 640.3L277.7 640.7L278.3 642.1L280.2 643.4L280.3 644.0L281.9 644.2L283.3 645.0L284.6 645.2L286.0 646.3L285.8 647.2L286.2 648.8L286.7 651.0L287.1 652.5L287.0 653.5L288.3 654.1L288.3 655.3L289.5 657.2L290.3 658.5L291.3 659.8L292.5 661.1L293.9 661.1L294.9 662.8L296.0 664.0L295.6 665.5L296.5 666.1L297.1 668.3L297.7 669.3L300.0 670.4M300.0 670.4L302.9 670.9L305.5 674.3L307.4 678.2L305.9 681.1L303.5 682.1L301.6 685.0L302.0 689.9L305.9 692.8L308.8 694.8L311.7 694.8L314.6 698.7L318.6 702.2L321.5 705.5L323.4 709.4L324.4 713.3L327.3 716.2M318.6 703.6L321.1 704.9L322.5 708.4L323.4 712.0L321.9 710.4L319.9 706.5L318.6 703.6M305.5 677.2L307.0 679.5L305.1 680.7M507.8 716.2L508.3 715.0L508.3 714.1L509.5 713.0L509.6 711.1L510.2 710.4L511.1 708.9L511.5 707.5L512.5 706.7L512.7 705.8L512.9 704.3L513.5 702.9L513.8 700.9L514.8 699.6L514.3 698.1L514.0 696.3L513.6 695.1L513.5 693.6L513.4 691.9L513.2 690.0L513.0 688.7L512.6 687.7L511.9 686.3L511.2 684.7L511.2 682.7L510.1 681.5L510.3 679.8L509.7 679.0L509.7 676.8L509.8 675.6L510.1 673.9L510.8 672.2L511.2 671.2L511.2 669.8L511.9 667.4L513.0 666.5L513.5 664.9L514.4 663.8L515.1 662.5L515.7 661.7L516.5 660.3L517.1 659.3L518.7 657.6L519.6 656.9L520.1 656.0L521.9 654.3L522.2 653.3L523.2 652.4L524.4 651.5L525.4 650.8L526.7 650.1L528.3 648.5L529.0 647.4L530.3 646.8L531.8 646.8L533.3 645.5L533.5 645.3L535.1 644.8L536.2 643.5L537.1 643.5L538.7 642.3L539.8 642.0L541.3 641.0L541.9 640.0L543.8 639.0L544.8 638.2L545.9 637.2L546.6 636.2L548.2 634.8L548.7 634.6L550.3 632.8L551.2 632.3L552.8 631.0L553.3 629.7L555.1 629.5L555.9 628.8L557.5 628.2L558.1 627.3L559.6 626.9L560.8 625.8L562.3 625.4L563.6 624.8L564.5 624.8L565.7 624.2L567.3 623.8L568.9 623.1L570.7 622.5L572.2 622.7L573.6 622.2L575.2 622.3L577.3 622.4L578.4 622.2L580.5 622.3L581.7 623.1L582.9 623.2L584.3 622.8L585.9 623.5M697.3 601.0L700.0 602.0M507.8 677.2L509.8 686.0L512.1 694.4L514.1 699.1M504.3 671.3L506.8 669.4L508.8 671.7L509.8 673.3L507.4 672.9L504.3 671.3M507.8 660.6L510.7 660.0L512.7 662.5L515.2 661.6L513.7 664.5L510.7 663.5L507.8 660.6M513.7 655.7L516.6 654.7L518.6 656.7L516.0 657.7L513.7 655.7M518.6 649.8L521.5 649.5L523.0 651.8L525.4 650.8L523.4 653.4L520.5 652.8L518.6 649.8M522.5 644.4L525.4 643.6L527.3 645.9L530.3 644.4L531.2 646.9L528.3 648.3L525.0 646.9L522.5 644.4M548.8 624.5L551.8 623.5L554.7 622.1L555.7 625.4L554.3 628.4L556.6 627.4L552.7 630.7L550.4 627.4L548.8 624.5M567.4 619.6L569.3 618.2L570.3 620.9L568.4 622.9L567.4 619.6M577.1 617.6L578.5 616.6L579.1 620.5L576.6 620.9L577.1 617.6M585.9 618.2L587.9 617.8L588.3 619.6L586.3 619.8L585.9 618.2M590.2 620.9L592.8 620.5L593.4 622.5L590.8 622.9L590.2 620.9M504.3 709.4L506.8 708.4L508.8 707.5L509.8 709.4L507.8 712.3L506.8 716.2M504.3 709.4L504.9 713.3L505.9 716.2M700.0 601.0L702.9 602.0L705.9 604.9L708.8 609.8L711.7 611.8L715.6 611.2L719.5 607.9L723.4 604.5L726.4 602.0L729.3 600.0L733.2 601.0L737.1 603.9L741.0 607.9L744.9 611.2L749.8 614.3L753.7 615.7L756.6 618.6L758.2 624.5L758.2 631.3L757.6 636.2L758.6 640.1L760.9 643.0L762.1 646.9L765.4 650.8L768.4 654.7L771.3 658.6L773.8 662.5L777.1 665.5L780.1 669.4L782.4 672.9L786.9 674.3L790.8 677.2L793.8 681.1L795.3 685.0L798.6 685.0L803.5 683.4L807.0 682.1L808.4 677.2L810.4 675.2M758.6 637.1L760.5 635.8L763.5 636.6L764.8 639.1L762.9 642.0L761.5 645.0L760.2 642.0L760.9 639.1L758.6 637.1M770.3 655.3L772.7 654.1L774.6 656.7L773.8 660.6L775.2 663.5L772.7 663.1L771.9 659.6L770.3 655.3M701.0 600.6L703.9 601.4L706.8 605.3L705.5 606.1L702.3 603.4L701.0 600.6M710.7 611.2L714.6 610.4L718.6 607.9L716.6 610.4L712.7 612.3L710.7 611.2M723.4 603.9L725.4 602.0L726.4 603.4L724.4 604.9M770.3 580.5L771.9 586.4L774.2 592.2L777.1 598.1L780.5 603.9L784.0 609.8L787.9 615.7L791.4 621.5L794.7 627.4L798.6 633.2L802.5 639.1L805.9 645.0L808.4 650.8L809.8 657.7L810.4 665.5L810.9 672.3L809.8 678.2L807.8 683.0L805.5 687.0L802.0 690.5L798.0 693.2L793.8 695.7L789.8 697.7L785.9 699.6L788.9 696.7L791.8 695.2L795.7 694.8M787.5 615.7L789.5 615.1L791.8 617.6L794.1 621.5L793.4 625.4L790.8 622.5L788.9 618.6L787.5 615.7M790.2 649.8L793.8 645.4L797.3 645.9L798.6 650.2L797.3 655.3L792.8 654.7L790.2 651.8L790.2 649.8M826.6 648.9L828.0 649.1L829.8 649.4L830.8 648.7L831.3 648.3L832.7 646.4L834.6 646.3L835.2 645.8L836.3 646.1L838.1 645.4L839.1 644.7L841.1 644.2L842.4 644.3L842.9 643.8L844.1 643.2L844.5 640.7L845.9 640.4L847.1 639.7L848.5 639.4L849.8 639.5L851.4 639.4L853.0 640.2L854.7 641.4L855.8 641.9L857.7 642.9L858.1 643.0L860.0 643.8L861.3 643.8L861.9 645.5L861.7 646.9L861.2 648.2L859.8 650.0L859.3 648.6L858.0 648.3L856.2 646.5L855.3 645.8L854.3 645.5L852.3 644.3L851.2 643.5L850.2 643.4L848.0 643.5L846.8 644.7L846.0 646.4L844.2 646.8L842.9 647.0L840.7 647.2L839.3 647.7L837.8 648.3L836.2 649.0L835.6 649.3L833.6 649.7L831.7 650.4L830.4 651.7L829.4 651.0L828.2 649.8L826.6 648.9M856.2 643.0L859.2 645.9L860.5 649.8L859.2 653.8L860.2 657.7L857.8 656.7L857.2 651.8L856.2 647.9L856.2 643.0M831.8 644.4L833.8 645.5L832.8 646.9M835.4 636.2L836.3 636.8L835.5 637.3L835.4 636.2M838.3 637.7L839.3 638.3L838.5 638.9L838.3 637.7M839.3 640.1L840.2 640.7L839.5 641.2L839.3 640.1M853.3 648.9L854.7 650.2L853.5 651.0M852.0 653.4L853.1 654.5L852.1 655.3M824.6 667.0L826.0 667.4L825.6 669.0L824.4 668.4L824.6 667.0M848.0 661.2L850.4 662.5L852.3 665.5L852.7 668.4L850.4 669.4M848.4 661.6L850.8 663.1L852.5 666.4M846.1 672.3L848.3 673.0L849.5 674.1L850.4 675.8L851.4 677.1L851.9 678.7L853.6 679.9L853.9 681.2L855.4 682.8L856.0 683.1L856.9 684.9L857.0 686.4L858.5 687.7L858.9 688.7L860.0 689.7L861.1 691.2L861.5 692.4L862.8 693.6L863.5 694.8L863.8 695.9L863.4 698.1L863.9 700.1L862.5 700.9L861.3 702.2L860.1 701.4L858.1 699.5L858.4 698.0L857.7 696.7L857.0 696.3L856.0 694.6L855.0 693.7L854.3 692.3L853.1 690.9L852.5 690.2L851.2 688.7L849.4 687.8L848.0 687.8L846.5 687.1L845.8 687.0L843.1 684.8L844.8 684.0L845.8 682.4L846.4 680.5L847.4 678.4L847.3 676.8L846.6 675.4L846.8 674.0L846.1 672.3M854.3 687.0L855.8 687.3L857.8 689.5L857.4 691.0L859.1 691.0L858.3 693.4L860.4 693.4L860.9 695.9L861.4 697.3L862.3 697.7L862.4 700.0L861.8 700.9L860.5 700.2L859.6 698.0L858.4 697.1L857.6 696.4L858.1 694.0L857.0 693.4L855.2 692.3L855.8 689.9L854.1 688.2L854.3 687.0M856.2 687.9L858.6 690.5L860.5 694.4L861.7 697.7M855.3 689.9L857.8 693.8L859.8 698.3M858.2 674.3L862.1 672.9L865.0 671.7L863.1 674.3L859.2 675.6L858.2 674.3M868.4 666.4L867.6 663.1L869.5 661.6L872.3 662.3L875.8 663.9L879.3 666.6L881.6 669.4L882.8 672.9L882.6 676.4L880.7 675.2L883.6 677.2M868.0 662.7L871.9 662.1L875.8 664.1L878.9 666.6L881.4 669.6L882.6 673.3M890.4 674.3L893.4 676.2L896.3 679.1L899.2 682.1L899.6 684.0L897.3 683.4M890.6 674.5L893.6 676.6L896.5 679.5L899.0 682.3M871.9 676.2L872.7 679.5L873.8 681.9M876.2 684.2L878.1 685.8L882.6 688.9L887.5 692.8L892.4 695.7L897.3 696.7L900.0 697.7M892.4 698.7L895.3 697.7M887.1 676.8L888.3 677.2L887.5 678.0L887.1 676.8M868.6 692.0L869.5 692.4L868.8 693.0L868.6 692.0M896.3 708.4L896.9 710.4M897.3 712.0L897.9 713.9M902.0 691.2L904.5 694.4L906.9 697.7L908.8 700.2L911.8 702.2L914.3 704.1L915.1 705.5M902.2 691.6L904.7 694.8L907.1 698.1L909.2 700.6L912.0 702.6M914.3 679.5L916.2 679.1L916.6 682.1L914.7 683.4L914.3 679.5M909.8 688.9L912.3 688.5L911.8 690.1L909.8 688.9M904.9 687.0L906.1 687.3L905.3 688.1L904.9 687.0M923.5 703.6L927.4 703.0L931.3 703.6L933.8 704.5L934.2 708.4L932.3 712.3L929.9 715.3L928.4 715.9L930.3 711.4L931.3 707.5L928.4 708.4L926.4 705.5L924.5 706.5L923.5 703.6M931.3 695.2L934.2 694.8L933.8 695.9L931.3 695.2M937.1 704.1L940.1 703.6L939.7 704.7L937.1 704.1M946.9 704.9L950.8 704.1L954.7 704.5L954.1 706.1L950.2 706.1L946.9 706.5L946.9 704.9M963.5 715.3L965.5 712.3L968.4 711.4L969.4 708.8L972.3 708.4L975.2 709.4L978.2 710.4L980.1 710.0L981.1 714.3L979.1 712.7L976.2 712.0L973.3 710.8L971.3 712.0L968.4 713.3L966.4 715.3L963.5 715.9M898.1 705.5L898.7 706.5M897.1 709.4L897.5 710.8M896.7 713.3L897.1 714.7M145.1 186.7L146.2 188.7L147.8 189.9L149.4 191.4L148.6 192.6L148.2 194.2L149.8 195.3L151.7 196.5L152.9 198.1L153.7 200.0L154.8 201.6L156.4 202.8L156.8 205.1L158.4 207.0L160.3 207.4L162.3 206.7L163.4 208.2L164.2 209.4L166.2 208.2L167.3 206.7L168.3 204.7L167.7 206.3L166.6 208.2L165.0 209.8L163.0 210.4L161.5 211.3L162.3 212.9L164.2 214.9L166.6 216.8L169.7 219.2L172.8 221.5L175.5 223.5L177.9 225.4L179.8 224.6L182.2 224.2L182.6 222.3L181.4 220.7L180.6 218.4L181.0 216.0L179.8 213.7L179.1 211.3L177.5 209.0L175.9 206.7L173.6 204.3L171.6 202.4L170.1 200.4L169.3 198.1L168.9 195.7L169.3 193.4L168.1 191.0L167.3 188.7L167.0 186.7M149.4 187.1L150.5 189.1L151.7 188.7L150.9 190.2L152.9 191.0L151.7 191.8L150.2 191.4M150.9 195.7L152.5 194.9L153.7 196.9L155.2 197.3L156.0 199.2L157.6 200.0L157.2 202.0L158.8 202.8L158.0 200.8L156.4 199.6L155.2 198.5L153.7 197.7L152.5 196.5M159.5 207.0L161.1 206.3L162.7 207.4L163.8 206.7L163.4 208.6M177.9 209.8L179.5 211.0L180.6 212.9L182.2 214.9L183.4 216.8L184.9 218.4L186.5 219.9L185.7 218.4L184.1 216.4L183.0 214.5L181.4 212.5L180.2 210.6L179.1 209.4L177.9 209.8M179.1 212.1L180.6 214.5L179.8 216.8L181.4 218.4L180.6 220.7L182.2 221.5L181.8 219.2L182.8 217.6L181.8 215.6L180.6 214.1M180.6 215.6L182.6 216.8L183.8 218.8L185.3 220.3L186.9 220.7L186.1 219.2L184.5 217.6L183.0 216.0M169.7 196.5L170.9 198.5L172.0 200.0L171.2 200.8L170.1 199.2L169.3 197.7L169.7 196.5M169.7 186.7L170.9 188.7L172.8 188.3L174.4 187.1L175.9 186.7M171.2 187.1L172.4 189.9L173.2 191.8L174.0 194.9L175.2 197.3L177.1 198.5L179.1 197.7L180.6 195.7L182.6 193.8L184.5 192.2L185.7 191.4L184.9 190.6L183.8 192.6L182.2 194.9L181.0 196.9L179.8 198.8L181.4 200.8L183.4 200.4L185.7 200.0L183.8 201.6L182.6 203.1L184.9 204.7L187.3 203.5L189.2 202.4L190.0 202.8L188.0 204.7L186.9 206.7L188.0 208.2L187.7 210.6L187.3 213.3L188.0 214.9L190.0 214.1L191.2 215.2L192.0 216.0M173.6 195.7L174.8 198.1L176.3 199.6L175.5 200.8L176.7 202.0L178.3 200.8L179.5 199.6L178.7 201.6L179.8 203.1L181.4 202.4L180.6 203.9L182.2 204.7M185.7 204.7L186.9 205.9L186.1 207.0L184.9 206.3L185.7 204.7M175.2 200.0L176.3 201.2L177.5 202.4L176.7 202.8L175.5 201.6M192.0 216.0L191.6 218.4L192.0 220.7L193.1 221.5L193.8 223.8L193.1 225.4L192.2 226.6L193.1 228.5L193.8 230.9L192.7 232.8L193.9 234.8L194.3 236.3L193.1 237.9L191.6 239.1L190.0 240.2L189.6 242.2L188.8 244.2L189.2 246.5L188.0 248.5L186.1 249.6L183.8 250.8L181.8 251.6L179.5 251.0L178.7 249.6L180.6 248.5L182.6 246.9L180.6 246.1L178.7 245.3L178.3 244.2L179.8 243.0L181.8 241.4L183.8 239.9L184.9 238.3L186.1 237.9L187.7 237.1L188.0 234.8L186.9 233.2L184.5 232.8L183.4 232.0L183.8 230.5L182.6 230.5M184.5 221.9L186.1 221.1L188.0 221.5L189.6 222.7L190.0 224.6L188.8 226.2L186.9 226.6L185.3 225.4L184.5 223.5L184.5 221.9M185.7 222.7L187.3 222.3L188.4 223.5L188.0 225.0L186.5 225.4L185.7 224.2L185.7 222.7M186.9 223.1L187.7 224.0L187.0 224.6M190.0 221.5L191.6 222.3L192.0 224.2L191.2 225.8L190.4 224.2L190.0 221.5M188.4 227.8L190.4 228.5L191.6 230.1L190.8 231.7L192.3 232.4L191.6 234.4L193.1 235.2L192.0 236.7L190.4 237.1L191.2 238.7L189.6 239.1L190.0 240.6L188.4 241.4L189.2 243.0L187.7 243.8L188.0 245.3L186.9 246.5L187.7 247.7L186.1 248.5M189.2 229.3L190.8 230.5L190.0 232.0L191.6 233.2L190.4 234.8L192.0 235.6L190.8 237.5L189.2 237.9L190.0 239.5L188.4 240.2M187.7 230.9L189.2 231.7L188.8 233.6L190.0 234.8L188.8 236.3L187.7 235.6L188.0 233.6L187.3 232.4L187.7 230.9M190.0 230.1L192.0 230.9L193.1 232.4L193.9 234.0L192.7 234.8L191.6 232.8L190.4 231.7M183.8 238.7L185.3 239.5L186.9 238.7L188.0 239.9L186.5 241.0L184.9 242.2L183.4 243.4L182.2 244.5L180.6 244.9L181.8 243.4L183.4 241.8L184.5 240.2L183.8 238.7M182.6 247.3L184.5 246.5L186.1 245.7L187.3 244.5L186.9 246.1L185.3 247.7L183.8 248.8L182.2 250.0L180.6 250.4L179.8 249.6L181.4 248.5L182.6 247.3M185.3 241.0L186.9 242.2L186.1 243.8L184.9 243.0L185.3 241.0M164.6 220.6L166.6 221.5L168.9 223.8L171.2 226.2L173.6 227.8L176.7 228.9L179.8 230.1L182.6 230.6M164.6 220.6L163.4 223.1L163.3 226.2L163.4 230.1L164.4 232.4L164.8 235.6L164.6 238.7L164.2 241.8L164.6 244.9L165.0 247.3L166.2 248.8L167.7 250.4L166.2 250.6L164.8 251.2L165.2 253.1L166.2 254.3L165.0 255.5L163.8 257.0L163.0 259.0L162.3 261.0L161.5 262.9L161.9 264.0M165.0 262.1L167.0 262.8L167.3 264.0M163.4 256.7L164.8 256.3L165.2 257.8L164.1 258.6L163.3 260.2L164.4 260.6L163.4 262.1L162.7 261.3M843.5 380.0L843.9 383.1L844.3 386.2L843.9 389.4L843.1 392.5L841.6 395.2L840.0 397.6L838.4 399.5L838.0 401.9L837.3 405.0L836.5 407.0L835.7 405.8L835.3 403.4L833.8 402.7L830.6 402.3L828.3 401.5L825.9 400.3L824.4 398.4L823.6 396.0L824.0 393.7L825.5 392.3L824.4 394.8L824.8 397.6L826.3 399.9L828.3 402.7L829.1 405.0L830.6 407.3L832.6 409.3L834.5 410.5L835.7 412.0L836.5 414.8L836.9 417.5L836.7 421.4L836.1 424.9L834.9 427.7L833.8 428.8L833.0 430.8L832.6 433.9L832.6 437.0L832.2 440.2L831.4 443.3L829.8 444.1L828.7 442.5L828.3 439.4L828.7 436.2L829.1 433.1L830.2 430.4L830.6 428.0L829.1 428.8L826.7 429.2L824.8 428.8L824.4 426.9L825.2 424.9L824.4 423.0L822.8 422.2L821.2 422.6L820.1 421.4L818.9 419.1L819.7 417.9L821.2 417.5L822.4 416.3L821.2 415.9L819.7 416.3L818.5 415.2L817.7 412.8L817.3 410.5L817.0 408.1L816.2 405.8L817.0 403.4L818.9 402.7L819.7 400.7L818.1 399.5L817.0 400.7L815.0 402.3L813.0 404.2L811.1 407.0L812.3 408.1L812.7 410.9L813.4 413.6L814.2 416.7L815.0 419.8L816.6 422.2L818.1 424.5L819.3 426.9L817.3 427.7L815.0 427.3L812.7 426.9L810.3 426.1L808.4 424.9L806.4 423.8L805.2 421.4L805.6 419.5L804.5 420.6L804.1 423.4L804.5 426.1L806.4 426.1L808.8 426.9L811.1 427.7L813.4 428.4L816.6 428.8L819.7 428.4L821.2 430.8L821.6 433.9L822.0 437.0L823.2 438.2L821.2 438.2L818.9 436.2L816.6 434.7L814.2 433.1L812.3 431.6L811.1 430.4L812.3 432.0L814.2 433.9L816.6 435.9L818.9 437.4L821.2 439.0L823.6 440.2L824.0 441.7L822.0 442.5L820.1 441.7L817.7 440.5L815.8 439.4L817.0 440.9L818.9 442.5L820.9 444.1L822.8 445.6L824.8 447.2L824.4 448.8L822.4 448.0L820.1 446.8L817.7 445.6L815.4 444.8L813.4 444.5L815.8 445.6L818.1 446.8L820.5 448.0L822.4 449.5L823.6 451.1L825.2 450.3L826.3 448.8L829.1 448.0L830.2 448.4M842.0 387.8L842.7 390.2L842.3 392.9L841.2 395.2L840.0 396.8M833.8 411.2L834.7 413.6L835.2 416.7L834.9 420.6L834.4 423.8M830.6 436.2L831.4 437.8L831.0 440.2L830.2 441.7L829.5 440.2L829.8 437.8L830.6 436.2M816.6 408.9L817.5 410.9L817.2 412.8L818.3 414.4L818.0 416.7L819.1 417.5M813.4 406.6L814.4 408.9L814.1 411.2L815.2 413.6L815.8 415.9L817.0 418.3L818.1 420.6M823.2 421.4L824.4 423.4L825.5 425.3L826.7 426.9L827.5 428.0M823.6 420.6L825.2 421.4L825.9 423.8L827.1 425.7M812.7 420.6L814.2 422.6L816.2 424.1L817.7 426.1M819.7 431.6L820.6 434.7L821.1 437.4M820.9 440.5L822.4 441.3L823.2 442.5M821.2 444.8L823.2 446.4L824.4 447.8M829.8 447.8L831.0 450.5L833.0 453.7L834.9 456.8L836.9 459.9L838.8 462.7L840.8 465.0L842.7 467.3L844.3 470.1L844.8 473.2L844.7 476.7L843.1 477.9L840.8 479.5L838.8 481.4L837.3 483.4L836.1 485.3L834.9 487.7L833.8 490.0L832.6 492.3L831.4 490.8L829.8 490.4L827.5 491.6L825.2 492.7L823.2 493.9L821.2 495.5L819.7 497.0L817.7 499.4L816.2 501.7L814.6 504.5L813.8 507.2L813.4 509.9L813.0 511.5L811.5 510.7L808.8 511.1L806.4 512.3L804.1 513.4L801.7 515.4L800.2 517.3L799.2 520.0M830.6 454.1L831.8 456.4L833.4 458.8L835.3 461.1L837.3 463.0L839.2 465.0L841.2 466.6M830.2 451.7L831.4 453.7L832.8 456.0L834.5 458.4L836.1 460.5M821.2 461.1L822.4 462.7L822.8 465.0L824.4 466.2L826.7 465.8L828.7 464.2L830.2 462.7L831.8 461.1L833.0 459.9L832.2 461.9L830.6 463.4L829.1 465.0L827.5 466.6L825.9 467.7L823.6 468.5L823.2 469.7L825.2 468.9L827.5 468.1L829.8 467.3L832.2 466.2L833.8 465.0L836.1 465.0L837.7 466.2L838.8 468.1L839.2 470.5L838.0 472.0L836.9 470.9L836.1 468.5L835.3 466.6L834.5 468.5L834.9 470.9L836.1 472.0L837.7 472.8L836.9 474.8L835.7 476.7L833.8 477.9L831.4 478.3L829.5 477.5L828.7 475.5L829.1 474.4L827.5 475.2L826.7 476.7L824.4 477.9L822.0 477.9L820.1 477.3L822.0 478.7L824.8 479.1L827.1 478.7L828.3 479.8L829.1 481.8L828.7 483.8L827.5 485.3L825.9 486.5L823.6 486.1L822.0 484.5L822.8 486.1L824.8 487.3L827.1 487.3L829.1 486.1L830.6 484.5L832.6 484.1L834.5 485.3L834.9 486.9L833.8 488.4L832.2 489.2L830.2 489.6L828.3 490.8M826.7 463.4L827.9 465.0L827.1 466.2M829.1 462.3L830.0 463.8L829.5 464.8M825.5 464.2L826.1 465.8M818.5 493.5L819.1 495.1L819.7 496.6M822.0 491.2L822.4 492.5L822.8 493.9M812.3 505.2L812.8 506.6L813.4 508.0M831.4 489.2L832.6 490.4L832.2 492.0M833.4 486.9L834.4 488.0L833.8 489.6M813.4 510.8L810.3 511.2L807.2 512.3L804.1 514.3L801.7 516.6L799.8 519.4L798.6 522.1L797.8 525.2L797.4 528.0L796.2 529.9L794.7 531.5L793.1 533.0L791.6 534.6L790.0 536.6L788.4 538.5L786.9 540.5L784.9 542.0L783.0 543.6L781.0 544.8L779.1 545.5L776.7 545.9L774.8 546.7L775.5 548.7L776.7 550.2L775.9 552.2L774.8 554.1L774.0 556.5L772.8 558.8L772.0 561.6L771.6 564.7L771.2 567.8L770.9 570.9L770.1 573.3L769.7 576.4L770.1 578.8L770.5 581.1L770.6 582.3M795.1 524.5L796.2 526.8L797.4 525.6M794.7 529.9L795.9 531.5M792.3 532.3L793.1 533.8M786.9 536.6L788.0 538.5L788.8 537.3M786.1 540.1L787.7 540.9M774.4 545.5L775.5 547.9L777.1 549.1L779.5 548.7L781.0 547.5L780.2 545.9L778.3 545.5L776.7 545.9M777.5 546.7L779.1 547.5L778.3 548.3M772.0 558.8L773.6 559.6M770.9 562.0L772.4 562.7M770.5 564.7L772.0 565.6M770.1 567.4L771.4 568.0M769.7 569.8L771.2 570.3M768.8 573.4L769.7 572.9L770.2 574.8L769.8 576.6L769.1 576.0L768.8 573.4M769.1 574.1L769.7 575.6M744.3 529.1L745.9 528.4L747.0 527.6L747.8 526.0L748.8 526.6L749.4 528.4L748.2 527.8L747.0 528.6L745.9 529.5L744.3 529.1M746.6 528.0L748.2 527.0M906.9 262.5L908.8 263.7L910.0 265.2L910.8 266.8L910.0 268.4L910.8 269.5L909.6 270.5L908.4 270.9L906.9 271.2L907.7 272.3L906.5 273.0L904.9 273.4L905.7 274.4L904.5 275.4L903.4 275.8L903.8 277.0L902.2 277.2L901.0 277.7L899.1 278.5L897.5 279.1L895.9 279.5L894.4 280.1L893.2 281.1L893.6 282.4L894.8 281.6L896.3 280.9L897.9 280.1L899.5 279.5L900.6 279.3L899.8 280.9L898.7 282.0L897.5 283.2L896.7 284.8L895.5 285.9L895.9 284.4L894.8 285.2L894.4 286.7L893.2 287.9L892.0 287.3L891.2 288.7L890.1 288.3L889.3 286.7L890.1 285.2L888.9 284.4L888.1 282.8L889.3 281.2L888.5 282.4L887.3 283.6L888.5 284.8L888.1 286.3L888.9 288.3L888.5 290.2L887.3 291.4L887.7 292.8L886.2 292.6L885.0 292.2L885.4 293.8L883.8 294.1L882.7 295.3L881.5 296.5L882.3 297.7L880.7 298.0L879.5 297.3L878.8 298.4L877.6 298.0L876.4 299.2L875.6 300.8L875.2 302.3L876.4 303.5L875.6 304.7L874.8 305.9L875.6 307.0L874.5 308.2L874.1 309.8L873.3 311.3L873.4 313.3L872.9 315.2L872.1 317.2L872.1 319.5M912.7 268.0L913.9 267.6L914.3 269.1L913.1 269.9L912.7 268.0M894.2 288.4L894.7 288.8L894.3 289.1L894.2 288.4M891.9 288.9L892.3 289.2L892.0 289.5L891.9 288.9M890.7 289.3L891.2 289.6L890.8 289.9L890.7 289.3M893.6 282.8L895.2 282.4L896.7 281.6L898.3 281.2M891.2 284.4L892.8 284.0L894.0 283.2M908.0 264.1L909.2 265.6L908.8 267.2M677.0 294.1L679.4 292.5L681.7 292.3L682.5 294.1L682.9 296.8L681.3 298.0L682.9 299.1L684.8 300.3L686.8 300.7L686.0 298.8L686.8 297.2L685.6 295.6L687.2 296.0L690.3 296.4L694.2 296.0L698.9 295.2L702.8 294.8L705.2 294.5L707.5 295.2L710.6 295.2L713.8 294.7L716.1 295.6L720.0 296.2L723.9 296.0L727.4 295.6L729.4 298.4L731.7 300.7L733.7 301.9L735.2 304.2L737.6 305.0L738.8 307.0L740.3 308.9L741.9 311.2L743.4 312.8L745.4 314.4L743.8 315.5L741.9 314.8L739.5 314.4L738.0 314.8L740.3 315.5L742.3 316.7L742.7 319.1L741.9 321.4L739.5 321.0L737.2 320.6L735.2 319.8L733.3 318.3L731.7 317.5L730.2 320.6L729.4 319.1L728.2 317.5L727.0 316.3L725.9 315.2L724.7 313.6L723.5 312.0L722.7 310.1L721.2 310.3L718.8 310.5L717.3 311.2L718.8 312.0L720.4 313.2L722.0 314.8L723.1 316.3L724.3 318.3L725.1 320.2L725.5 322.2L724.3 324.1L723.5 326.1L722.3 327.3L722.0 329.6L721.2 331.6L720.4 333.1L721.2 335.1L722.0 337.4L722.7 340.2L723.5 342.5L723.9 344.8L723.5 346.8L722.0 348.4L720.4 349.9L718.8 351.5L717.7 353.0L715.3 354.2M680.9 298.4L684.8 300.5L688.8 299.5L693.4 301.5L697.3 301.1L701.2 300.9L703.6 299.9L706.7 298.8L709.1 299.5L710.6 298.4L712.2 296.8L713.8 295.2L715.3 297.2L716.1 299.1L716.9 300.7L716.5 302.7L716.1 305.0L715.7 307.0L713.0 306.2L709.1 305.0L705.2 303.8L701.2 303.0L693.4 302.7L685.6 301.9L680.2 303.0L676.2 302.7L673.1 303.4L670.0 303.0M688.0 299.1L689.5 300.7L691.5 299.9L692.7 301.1L695.0 300.5L697.0 301.5L698.9 300.5L700.9 301.2L702.4 300.2L704.4 300.5M712.2 295.6L713.4 297.6L714.5 299.5L715.7 301.1L714.9 298.8L713.8 296.8L712.2 295.6M710.6 296.8L711.8 298.8L713.4 300.5L714.5 302.3M681.7 297.6L683.3 298.4L684.5 299.5L685.6 299.9M735.6 304.6L737.2 303.8L738.4 305.4L737.2 306.2M741.9 312.4L743.8 313.2L745.0 314.8L743.4 314.4M724.7 314.0L726.2 314.8L727.8 314.4L728.6 315.9M726.6 315.5L727.8 316.7L727.4 318.3M670.0 303.0L672.3 304.2L674.7 305.4L675.9 303.8L677.4 302.7M675.5 306.6L673.1 308.1L671.6 310.5L671.2 312.8L673.1 314.0L674.7 314.8L672.7 315.5L670.0 316.7M677.4 306.2L679.4 306.6L680.5 307.7L679.0 307.3L677.4 306.2M674.7 305.4L675.5 306.6L677.8 307.0L680.9 308.5L683.3 310.1L685.6 311.2L688.8 311.6L691.9 312.0L694.2 313.2L695.8 315.2L697.0 317.1L697.3 318.7L695.8 319.1L696.2 321.0L697.7 322.6L698.5 324.9L698.8 327.7L698.9 330.8L698.5 332.3L696.6 333.1L696.2 335.1L695.8 337.0L693.8 338.2L692.3 339.8L692.3 342.1L692.7 344.5L694.2 345.6L696.2 346.4L697.3 344.8L698.5 342.5L699.7 339.8L701.2 337.8L703.6 335.9L705.5 335.3L707.5 336.2L709.5 338.6L710.6 341.7L711.8 344.8L713.0 348.0L714.1 351.1L715.3 354.2M672.3 280.0L671.6 283.1L673.1 284.7L675.9 285.5L677.4 286.6L676.6 289.0L675.9 290.9L675.5 292.9L677.0 294.1M675.5 285.9L677.0 287.4L676.2 289.4M287.9 382.0L289.3 380.5L291.3 380.0L292.7 381.5L291.8 383.5L293.2 385.4L294.7 386.9L295.2 389.3L296.2 390.8L295.9 386.9L297.1 385.9L298.6 387.9L299.1 390.8L299.6 393.2L301.0 395.2L302.5 396.6L300.5 397.6L298.6 397.1L298.1 394.7L297.6 397.6L298.6 399.6L297.1 400.5L294.7 400.7L293.7 398.6L293.5 396.2L292.2 397.6L291.3 398.6L290.8 396.2L289.8 393.7L289.3 390.8L288.3 388.8L287.2 387.9L287.4 384.9L287.9 382.0M480.0 203.2L481.6 204.8L483.5 204.4L485.5 205.5L487.0 204.8L488.6 205.9L490.5 206.5L491.3 208.7L491.7 211.0L490.9 212.6L491.7 214.1L493.7 214.5L493.3 216.5L491.7 218.0L490.2 220.4L491.7 221.5L494.1 221.9L496.0 223.5L497.6 225.5L499.1 227.8L500.5 230.1L501.5 232.1L500.7 233.7L498.8 234.8L496.8 235.6L494.5 235.6L493.3 234.4L493.7 232.1L492.9 229.8L492.1 227.4L491.3 225.1L490.2 222.7L488.6 220.4L487.4 218.0L488.2 216.1L489.0 214.1L488.6 211.8L487.8 209.8L486.6 208.7L485.1 207.9L483.1 207.5L481.6 208.7L480.8 207.1L480.0 206.5M484.7 205.1L486.2 206.4L488.5 208.2L490.1 208.6L490.6 210.4L489.9 213.6L490.6 215.5L490.2 217.2L490.5 219.2M482.3 205.5L483.7 207.0L485.4 207.5L487.4 208.1L488.6 210.2M490.9 186.9L492.5 189.1L494.5 191.5L496.0 193.8L498.0 195.8L499.1 198.1L499.9 200.5L501.5 202.0L503.0 202.8L503.4 200.5L503.0 198.5L504.6 197.7L506.6 198.3L507.7 200.1L508.9 202.0L509.7 204.4L509.3 206.7L508.5 209.0L508.9 211.0L510.1 211.4L511.2 209.4L512.4 207.5L514.0 206.3L515.5 205.5L516.3 204.4L515.5 202.8L514.4 200.8L513.2 198.5L512.0 196.2L511.2 193.8L510.9 191.5L510.1 189.1L509.3 186.9M515.5 205.5L516.7 207.1L517.9 209.0L519.1 211.0L520.2 213.0L521.4 215.3L520.6 216.9L519.8 218.0L520.2 220.4L520.6 222.7L520.5 225.1L521.0 226.6L519.5 227.0L518.3 225.8L518.1 227.8L517.9 229.8L517.1 231.3L515.5 231.9L514.0 231.3L513.2 229.8L512.4 227.4L512.2 225.1L512.4 222.7L512.8 220.4L513.2 218.0L512.8 216.5L513.6 214.5L514.4 212.6L515.5 210.6L516.3 208.7L515.9 207.1L515.5 205.5M513.6 213.0L515.2 213.3L516.3 212.6L515.5 214.5L514.4 215.3L513.6 214.1M505.0 198.5L505.8 200.5L505.2 201.6M534.7 246.2L536.1 244.6L538.3 244.3L539.6 243.7L541.8 243.8L543.7 242.8L544.7 243.0L546.0 244.2L546.9 245.7L548.5 247.2L549.4 248.8L550.4 251.3L551.2 252.8L549.8 254.1L548.6 255.5L547.5 255.6L546.5 256.0L544.8 257.1L543.9 258.9L543.7 259.6L542.0 260.2L540.2 259.1L538.1 257.8L537.6 259.2L536.1 260.6L535.4 259.6L533.9 258.3L534.8 256.0L533.5 255.1L534.6 254.2L536.8 253.4L537.4 251.7L536.3 250.1L536.2 248.5L535.5 247.2L534.7 246.2M536.2 246.2L538.5 245.6L539.5 246.4L539.4 248.8L540.2 249.5L541.0 247.8L542.4 247.1L543.2 245.3L545.9 246.6L544.8 247.4L545.2 249.6L546.8 248.9L548.1 250.5L547.3 252.2L546.8 250.6L545.7 251.6L547.0 252.8L545.3 254.6L544.1 253.7L542.0 255.6L541.4 254.4L542.1 251.6L541.4 250.8L539.3 251.2L537.8 251.1L539.4 249.5L537.3 248.9L537.1 246.8L536.2 246.2M539.4 245.0L541.3 245.6L542.2 244.3L543.7 244.2M542.5 250.1L544.1 251.4L542.3 253.2L541.1 252.1L542.5 250.1M546.4 252.4L547.5 253.2L548.7 253.1L548.4 254.0M537.8 253.2L539.8 254.7L539.1 255.5L540.2 257.1M472.9 186.8L473.3 188.1L474.6 189.5L474.5 191.6L473.8 193.0L473.9 193.7L474.2 195.4L473.8 196.7L474.2 198.2L474.2 199.8L474.9 201.4L475.3 202.7L476.5 204.1L476.8 205.6L478.0 206.4L480.1 207.3M479.7 186.8L480.3 188.2L480.3 188.9L480.1 191.1L478.7 192.4L478.4 193.7L478.6 195.0L477.7 196.8L476.9 198.2L476.7 200.0L477.1 201.0L477.6 201.9L478.3 203.1L480.1 205.0M588.5 624.2L590.0 625.2L593.9 625.0L596.8 624.2L597.8 622.2L599.8 620.3L602.2 619.3L603.2 621.2L605.6 621.1L606.6 622.7L609.0 624.2L611.5 625.2L613.4 626.6L612.0 628.6L612.9 630.0L614.9 629.6L615.9 631.0L618.3 632.0L620.3 633.0L622.2 632.5L623.2 630.5L624.2 628.6L626.1 627.6L627.6 628.6L629.1 630.0L630.5 631.5L632.0 630.5L633.0 628.6L632.0 626.6L633.0 624.7L634.4 623.7L636.4 624.2L637.4 625.6L636.4 627.1L637.9 627.6L638.8 626.1L637.9 623.7L637.4 621.2L639.8 622.7L642.2 624.2L644.7 625.2L647.1 626.1L649.1 627.6L650.5 628.6L650.1 630.0L648.6 631.0L647.1 630.5L645.7 632.0L644.7 633.5L645.2 631.5L643.7 630.0L641.8 628.6L639.8 627.1L637.9 625.6L636.9 623.7L637.4 621.2L638.8 619.8L640.3 618.3L641.8 616.4L643.2 614.4L644.7 612.5L645.7 610.5L644.2 611.5L642.7 612.9L640.8 613.9L639.3 615.4L637.9 614.9L636.9 613.4L638.8 612.0L641.8 607.1L644.7 605.6L647.6 604.6L650.5 603.7L653.5 604.5L656.4 604.6L658.8 603.7L661.3 604.6L662.8 605.6L663.2 601.7L663.7 598.3L665.2 597.3L666.2 599.3L667.1 602.2L668.6 604.6L671.1 604.6L674.0 603.2L675.9 601.7L677.9 600.7L679.8 599.8L682.8 599.3L685.7 599.8L690.0 598.3L695.0 599.0M597.8 622.2L599.8 623.7L601.7 625.2L603.7 625.6L605.1 624.2L606.6 622.7M598.3 624.2L599.8 623.7M599.3 621.2L601.2 620.8L602.7 622.2L604.2 623.2L602.2 623.7L600.3 622.7L599.3 621.2M612.0 627.1L613.9 628.1L614.9 629.6L613.4 630.2L612.3 629.1L612.0 627.1M619.3 632.2L620.8 631.8L621.4 632.8M625.2 632.0L627.1 632.2M632.0 624.2L633.9 623.2L635.7 624.4L635.9 626.3L634.1 627.3L632.6 626.3L632.0 624.2M640.8 612.5L643.7 611.0L645.9 611.6L644.5 613.0L644.6 615.5L644.2 616.7L642.6 619.1L641.0 620.1L640.5 619.8L638.4 621.5L638.7 619.4L641.2 617.3L641.9 614.2L642.0 613.0L640.8 612.5M641.8 613.4L643.4 613.3L643.4 615.8L641.5 618.3L640.8 619.1M642.7 612.3L644.4 613.2L643.9 614.9M625.2 608.1L627.6 606.6L630.0 606.4L632.5 607.6L634.4 609.0L635.9 610.0L636.9 611.5L635.4 612.9L633.0 613.2L630.0 613.6L627.1 613.4L625.6 612.5L625.2 610.5L625.2 608.1M622.7 608.6L624.2 607.9L625.4 609.0L625.0 610.7L623.4 611.3L622.4 610.0L622.7 608.6M635.4 612.7L636.7 613.9L637.9 614.9M635.9 611.7L637.4 612.7M646.6 608.2L648.6 607.8L650.5 607.9M653.5 607.4L655.9 607.2L658.4 607.1M651.0 611.0L652.3 612.9L652.5 615.4L651.5 617.8L650.5 618.5M675.0 602.2L676.4 600.3L677.4 601.7L678.4 599.8L679.4 600.9M677.9 599.3L679.4 598.6L680.8 599.0L681.6 599.8M872.0 319.1L872.2 318.8L873.5 320.7L874.7 322.3L876.2 322.7L876.6 323.8L875.1 325.0L873.9 326.6L873.1 328.1L872.3 329.7L873.5 330.9L875.5 330.9L877.0 331.2L878.2 332.8L879.4 334.4L880.9 335.9L882.5 337.1L883.7 338.3L885.6 337.5L887.6 336.7L889.1 336.3L890.7 337.5L891.1 339.1L890.7 336.7L889.9 334.8L888.8 332.8L887.2 331.6L885.6 331.2L884.5 331.4L886.4 332.0L888.0 333.2L889.1 334.8L889.9 336.7L889.1 336.7L887.2 337.9L885.2 339.1L883.7 340.2L882.1 341.4L880.5 342.6L879.0 343.8L880.5 340.6L881.7 339.1L880.2 339.8L878.6 341.8L877.4 343.4L876.2 344.9L874.7 346.1L873.1 346.9L871.6 348.4L870.0 349.6L868.0 350.4L866.1 351.2L865.3 352.3L863.8 352.5L861.4 353.5L859.1 354.7L856.7 355.6L854.4 356.2L852.4 356.6L850.9 358.2L848.9 359.8L847.0 361.7L845.0 363.3L843.4 364.8L842.3 366.8L841.1 368.8L839.9 370.3L838.8 371.9L838.0 373.8L837.6 375.8L839.1 376.2L840.7 375.8L842.3 376.2L843.0 378.1L843.4 380.0M870.4 340.6L870.8 341.8L871.6 344.0L873.8 344.4L875.5 346.1L874.7 345.4L873.1 347.3L872.1 344.9L871.9 344.0L870.8 343.1L870.4 340.6M871.2 341.4L872.9 342.6L872.3 344.1L873.9 345.7M870.8 342.2L871.2 343.3L872.5 346.1M880.9 346.1L882.5 345.3L884.1 344.5L885.6 344.7L885.2 345.7L883.7 346.5L882.1 347.3L880.9 346.9L880.9 346.1M889.1 345.3L890.7 344.9L892.3 343.8L893.0 344.9L891.9 345.9L890.3 346.1L889.1 345.3M878.6 345.3L879.5 344.7L880.5 344.1M870.9 352.5L871.7 353.0L871.4 353.9L870.8 353.3L870.9 352.5M881.7 342.6L883.0 342.7L883.9 343.3L884.4 343.6L883.7 346.2L882.6 345.3L882.5 345.7M880.2 343.8L880.5 345.0L880.9 346.1M841.5 369.5L845.8 367.2L850.5 364.8L854.4 362.9L858.3 360.9L860.6 359.4L862.6 357.4L863.8 356.9L862.6 356.4L861.8 357.4L859.8 358.6L858.7 360.2L860.2 359.8L862.2 358.6L863.8 357.8L866.1 356.4L868.4 355.9L866.1 357.8L862.2 360.9L856.7 364.8L851.2 368.8L845.0 371.9L839.5 373.8L838.4 374.2M851.2 368.1L849.7 368.8L849.2 369.2L847.9 370.0L845.9 370.4L844.8 371.5L843.4 372.0M856.7 364.2L855.6 365.1L854.9 365.7L852.7 366.6L852.0 367.6M859.1 359.4L860.5 357.7L861.8 357.8" fill="none" stroke="#000" stroke-width="0.96" stroke-linejoin="round"/>
</g>
<rect x="115.8" y="186.5" width="870.7" height="529.8" fill="none" stroke="#000" stroke-width="1.25"/>
<path d="M235.5 186.5V169M418 186.5V169M595 186.5V169M778.5 186.5V169M977.3 186.5V169M287.5 716.3V733M465.2 716.3V733M641.8 716.3V733M822.3 716.3V733M115.8 272.8H98.5M115.8 372.2H98.5M115.8 470.7H98.5M115.8 569.8H98.5M115.8 669.7H98.5M986.5 234H1004M986.5 336.6H1004M986.5 438H1004M986.5 539.5H1004M986.5 640.5H1004" stroke="#1a1a1a" stroke-width="1.2" fill="none"/>
<g transform="translate(550.9 141.9) scale(0.971 1)"><text font-size="38.2" text-anchor="middle">ICAP 20250919 Daily AOD Forecast</text></g>
<g transform="translate(80.30 283.15) scale(0.9 1)"><text font-size="30.9" text-anchor="end">N</text></g><circle cx="54.50" cy="268.15" r="3.75" fill="none" stroke="#000" stroke-width="1.55"/><g transform="translate(47.30 283.15) scale(0.9 1)"><text font-size="30.9" text-anchor="end">45</text></g>
<g transform="translate(80.30 382.55) scale(0.9 1)"><text font-size="30.9" text-anchor="end">N</text></g><circle cx="54.50" cy="367.55" r="3.75" fill="none" stroke="#000" stroke-width="1.55"/><g transform="translate(47.30 382.55) scale(0.9 1)"><text font-size="30.9" text-anchor="end">40</text></g>
<g transform="translate(80.30 481.05) scale(0.9 1)"><text font-size="30.9" text-anchor="end">N</text></g><circle cx="54.50" cy="466.05" r="3.75" fill="none" stroke="#000" stroke-width="1.55"/><g transform="translate(47.30 481.05) scale(0.9 1)"><text font-size="30.9" text-anchor="end">35</text></g>
<g transform="translate(80.30 580.15) scale(0.9 1)"><text font-size="30.9" text-anchor="end">N</text></g><circle cx="54.50" cy="565.15" r="3.75" fill="none" stroke="#000" stroke-width="1.55"/><g transform="translate(47.30 580.15) scale(0.9 1)"><text font-size="30.9" text-anchor="end">30</text></g>
<g transform="translate(80.30 680.05) scale(0.9 1)"><text font-size="30.9" text-anchor="end">N</text></g><circle cx="54.50" cy="665.05" r="3.75" fill="none" stroke="#000" stroke-width="1.55"/><g transform="translate(47.30 680.05) scale(0.9 1)"><text font-size="30.9" text-anchor="end">25</text></g>
<g transform="translate(288.40 762.20) scale(0.9 1)"><text font-size="30.9" text-anchor="end">110</text></g><circle cx="293.80" cy="746.90" r="3.75" fill="none" stroke="#000" stroke-width="1.55"/><g transform="translate(299.80 762.20) scale(0.9 1)"><text font-size="30.9" text-anchor="start">W</text></g>
<g transform="translate(466.10 762.20) scale(0.9 1)"><text font-size="30.9" text-anchor="end">100</text></g><circle cx="471.50" cy="746.90" r="3.75" fill="none" stroke="#000" stroke-width="1.55"/><g transform="translate(477.50 762.20) scale(0.9 1)"><text font-size="30.9" text-anchor="start">W</text></g>
<g transform="translate(635.70 762.20) scale(0.9 1)"><text font-size="30.9" text-anchor="end">90</text></g><circle cx="641.10" cy="746.90" r="3.75" fill="none" stroke="#000" stroke-width="1.55"/><g transform="translate(647.10 762.20) scale(0.9 1)"><text font-size="30.9" text-anchor="start">W</text></g>
<g transform="translate(816.20 762.20) scale(0.9 1)"><text font-size="30.9" text-anchor="end">80</text></g><circle cx="821.60" cy="746.90" r="3.75" fill="none" stroke="#000" stroke-width="1.55"/><g transform="translate(827.60 762.20) scale(0.9 1)"><text font-size="30.9" text-anchor="start">W</text></g>
<rect x="195.60" y="800.2" width="32.34" height="42.89999999999998" fill="#FFFFFF"/>
<rect x="227.94" y="800.2" width="32.34" height="42.89999999999998" fill="#DFF1FB"/>
<rect x="260.27" y="800.2" width="32.34" height="42.89999999999998" fill="#BEE5F8"/>
<rect x="292.61" y="800.2" width="32.34" height="42.89999999999998" fill="#9DD9F6"/>
<rect x="324.95" y="800.2" width="32.34" height="42.89999999999998" fill="#81BEE7"/>
<rect x="357.28" y="800.2" width="32.34" height="42.89999999999998" fill="#68A8DD"/>
<rect x="389.62" y="800.2" width="32.34" height="42.89999999999998" fill="#4A8BCA"/>
<rect x="421.95" y="800.2" width="32.34" height="42.89999999999998" fill="#4B9B9A"/>
<rect x="454.29" y="800.2" width="32.34" height="42.89999999999998" fill="#48A46F"/>
<rect x="486.63" y="800.2" width="32.34" height="42.89999999999998" fill="#4AB349"/>
<rect x="518.96" y="800.2" width="32.34" height="42.89999999999998" fill="#83C54E"/>
<rect x="551.30" y="800.2" width="32.34" height="42.89999999999998" fill="#C2D85C"/>
<rect x="583.64" y="800.2" width="32.34" height="42.89999999999998" fill="#F8E75C"/>
<rect x="615.97" y="800.2" width="32.34" height="42.89999999999998" fill="#F8BF4E"/>
<rect x="648.31" y="800.2" width="32.34" height="42.89999999999998" fill="#F7983E"/>
<rect x="680.65" y="800.2" width="32.34" height="42.89999999999998" fill="#F46C2B"/>
<rect x="712.98" y="800.2" width="32.34" height="42.89999999999998" fill="#EB5429"/>
<rect x="745.32" y="800.2" width="32.34" height="42.89999999999998" fill="#E13D29"/>
<rect x="777.65" y="800.2" width="32.34" height="42.89999999999998" fill="#D6212A"/>
<rect x="809.99" y="800.2" width="32.34" height="42.89999999999998" fill="#C01B24"/>
<rect x="842.33" y="800.2" width="32.34" height="42.89999999999998" fill="#AB1A20"/>
<rect x="874.66" y="800.2" width="32.34" height="42.89999999999998" fill="#8F151A"/>
<path d="M227.94 800.2V843.1M260.27 800.2V843.1M292.61 800.2V843.1M324.95 800.2V843.1M357.28 800.2V843.1M389.62 800.2V843.1M421.95 800.2V843.1M454.29 800.2V843.1M486.63 800.2V843.1M518.96 800.2V843.1M551.30 800.2V843.1M583.64 800.2V843.1M615.97 800.2V843.1M648.31 800.2V843.1M680.65 800.2V843.1M712.98 800.2V843.1M745.32 800.2V843.1M777.65 800.2V843.1M809.99 800.2V843.1M842.33 800.2V843.1M874.66 800.2V843.1" stroke="#000" stroke-width="0.8" fill="none"/>
<rect x="195.6" y="800.2" width="711.4" height="42.89999999999998" fill="none" stroke="#777" stroke-width="1"/>
<text x="227.94" y="869.8" font-size="20" text-anchor="middle">0</text>
<text x="260.27" y="869.8" font-size="20" text-anchor="middle">0.2</text>
<text x="292.61" y="869.8" font-size="20" text-anchor="middle">0.4</text>
<text x="324.95" y="869.8" font-size="20" text-anchor="middle">0.6</text>
<text x="357.28" y="869.8" font-size="20" text-anchor="middle">0.8</text>
<text x="389.62" y="869.8" font-size="20" text-anchor="middle">1</text>
<text x="421.95" y="869.8" font-size="20" text-anchor="middle">1.2</text>
<text x="454.29" y="869.8" font-size="20" text-anchor="middle">1.4</text>
<text x="486.63" y="869.8" font-size="20" text-anchor="middle">1.6</text>
<text x="518.96" y="869.8" font-size="20" text-anchor="middle">1.8</text>
<text x="551.30" y="869.8" font-size="20" text-anchor="middle">2</text>
<text x="583.64" y="869.8" font-size="20" text-anchor="middle">2.2</text>
<text x="615.97" y="869.8" font-size="20" text-anchor="middle">2.4</text>
<text x="648.31" y="869.8" font-size="20" text-anchor="middle">2.6</text>
<text x="680.65" y="869.8" font-size="20" text-anchor="middle">2.8</text>
<text x="712.98" y="869.8" font-size="20" text-anchor="middle">3</text>
<text x="745.32" y="869.8" font-size="20" text-anchor="middle">3.2</text>
<text x="777.65" y="869.8" font-size="20" text-anchor="middle">3.4</text>
<text x="809.99" y="869.8" font-size="20" text-anchor="middle">3.6</text>
<text x="842.33" y="869.8" font-size="20" text-anchor="middle">3.8</text>
<text x="874.66" y="869.8" font-size="20" text-anchor="middle">4</text>
</svg>
</body></html>
